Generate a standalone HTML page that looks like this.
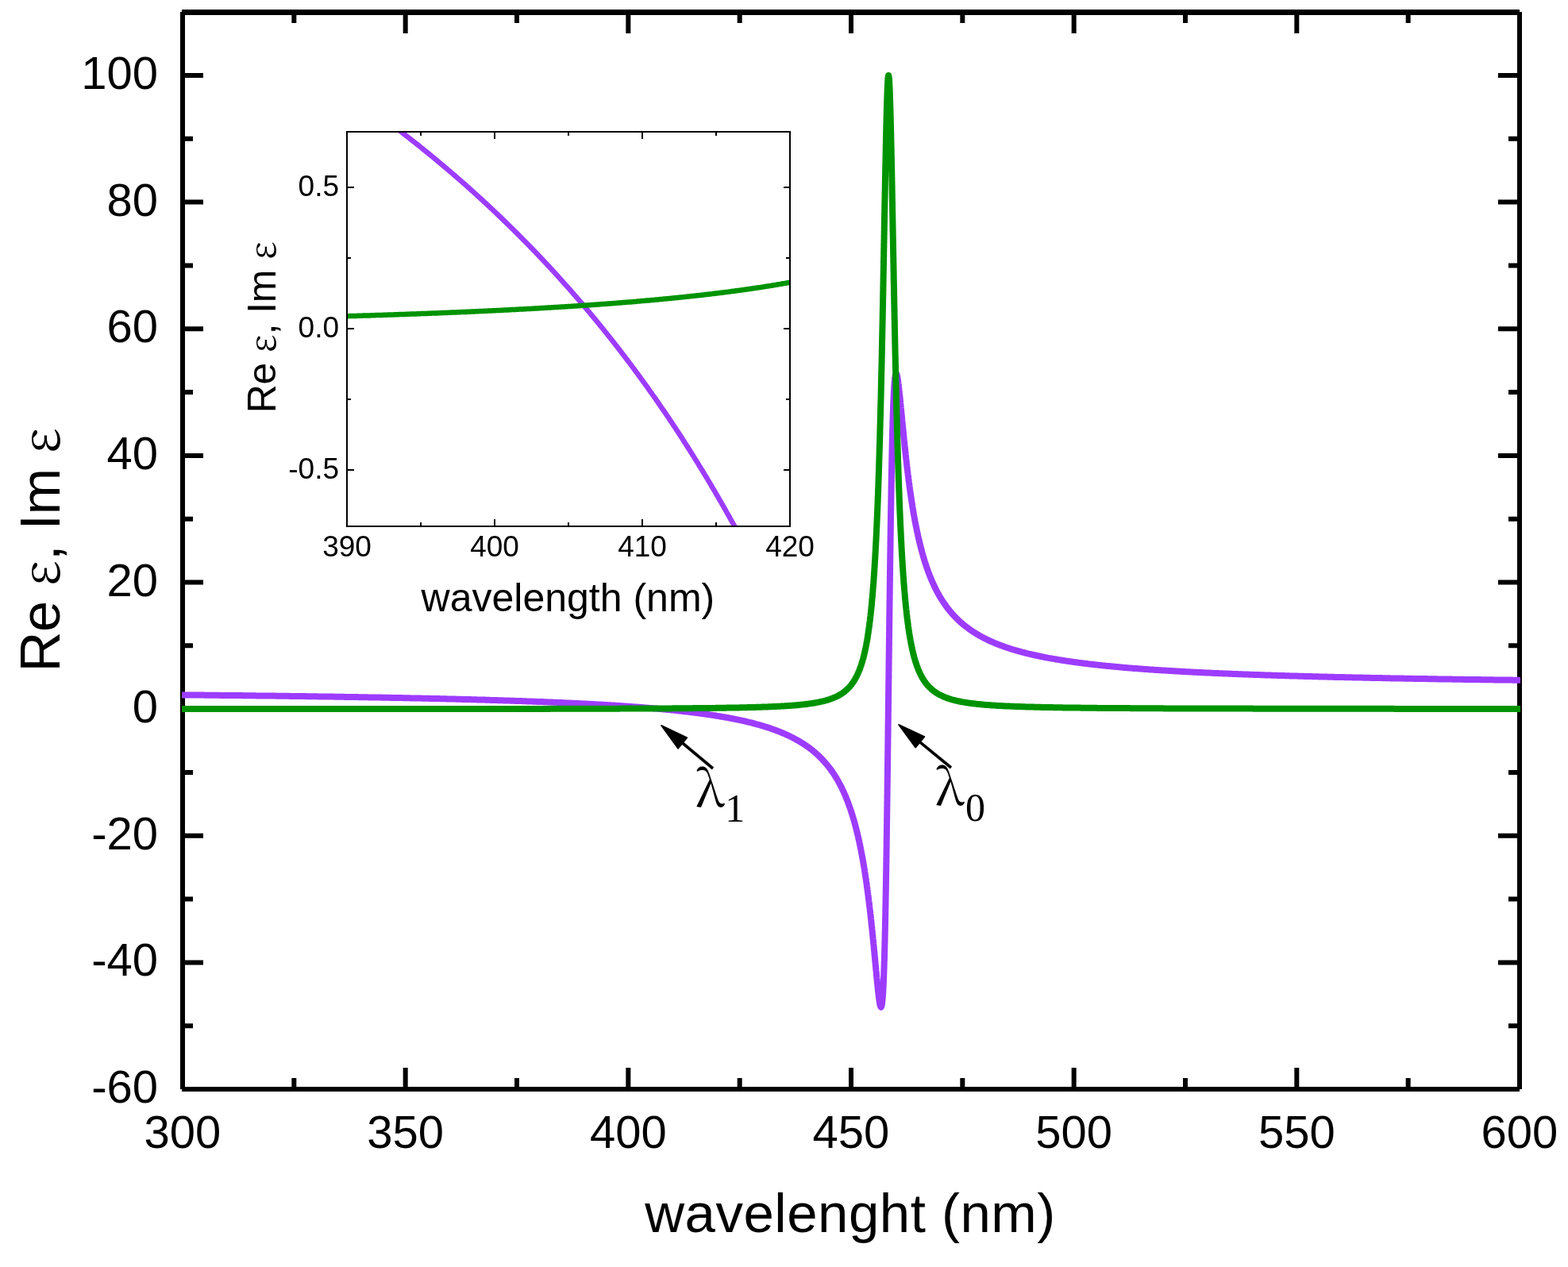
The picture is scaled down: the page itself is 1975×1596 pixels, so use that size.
<!DOCTYPE html><html><head><meta charset="utf-8"><title>Re ε, Im ε</title><style>html,body{margin:0;padding:0;background:#fff;overflow:hidden;}svg{display:block;}</style></head><body><svg width="1975" height="1596" viewBox="0 0 1975 1596">
<rect x="0" y="0" width="1975" height="1596" fill="#fff"/>
<path d="M227,1212.38H256 M1917,1212.38H1887 M227,1052.75H256 M1917,1052.75H1887 M227,893.12H256 M1917,893.12H1887 M227,733.50H256 M1917,733.50H1887 M227,573.88H256 M1917,573.88H1887 M227,414.25H256 M1917,414.25H1887 M227,254.62H256 M1917,254.62H1887 M227,95.00H256 M1917,95.00H1887 M227,1292.19H243 M1917,1292.19H1900 M227,1132.56H243 M1917,1132.56H1900 M227,972.94H243 M1917,972.94H1900 M227,813.31H243 M1917,813.31H1900 M227,653.69H243 M1917,653.69H1900 M227,494.06H243 M1917,494.06H1900 M227,334.44H243 M1917,334.44H1900 M227,174.81H243 M1917,174.81H1900 M510.67,1375V1345 M510.67,12V42 M791.33,1375V1345 M791.33,12V42 M1072.00,1375V1345 M1072.00,12V42 M1352.67,1375V1345 M1352.67,12V42 M1633.33,1375V1345 M1633.33,12V42 M370.33,1375V1358 M370.33,12V29 M651.00,1375V1358 M651.00,12V29 M931.67,1375V1358 M931.67,12V29 M1212.33,1375V1358 M1212.33,12V29 M1493.00,1375V1358 M1493.00,12V29 M1773.67,1375V1358 M1773.67,12V29" stroke="#000" stroke-width="6" fill="none"/>
<path d="M229,15.5H1914" stroke="#000" stroke-width="7" fill="none"/>
<path d="M229,1372H1914" stroke="#000" stroke-width="6" fill="none"/>
<path d="M230,15V1372" stroke="#000" stroke-width="6" fill="none"/>
<path d="M1914,15V1372" stroke="#000" stroke-width="6" fill="none"/>
<path d="M229.0,875.4 L230.2,875.4 L231.4,875.4 L232.6,875.4 L233.8,875.4 L235.0,875.4 L236.2,875.5 L237.4,875.5 L238.6,875.5 L239.8,875.5 L241.0,875.5 L242.2,875.5 L243.4,875.5 L244.6,875.5 L245.8,875.5 L247.0,875.6 L248.2,875.6 L249.4,875.6 L250.6,875.6 L251.8,875.6 L253.0,875.6 L254.2,875.6 L255.4,875.6 L256.6,875.6 L257.8,875.7 L259.0,875.7 L260.2,875.7 L261.4,875.7 L262.6,875.7 L263.8,875.7 L265.1,875.7 L266.3,875.7 L267.5,875.8 L268.7,875.8 L269.9,875.8 L271.1,875.8 L272.3,875.8 L273.5,875.8 L274.7,875.8 L275.9,875.8 L277.1,875.9 L278.3,875.9 L279.5,875.9 L280.7,875.9 L281.9,875.9 L283.1,875.9 L284.3,875.9 L285.5,875.9 L286.7,876.0 L287.9,876.0 L289.1,876.0 L290.3,876.0 L291.5,876.0 L292.7,876.0 L293.9,876.0 L295.1,876.0 L296.3,876.1 L297.5,876.1 L298.7,876.1 L299.9,876.1 L301.1,876.1 L302.3,876.1 L303.5,876.1 L304.7,876.1 L305.9,876.2 L307.1,876.2 L308.3,876.2 L309.5,876.2 L310.7,876.2 L311.9,876.2 L313.1,876.2 L314.3,876.3 L315.5,876.3 L316.7,876.3 L317.9,876.3 L319.1,876.3 L320.3,876.3 L321.5,876.3 L322.7,876.4 L323.9,876.4 L325.1,876.4 L326.3,876.4 L327.5,876.4 L328.7,876.4 L329.9,876.4 L331.1,876.4 L332.3,876.5 L333.5,876.5 L334.7,876.5 L335.9,876.5 L337.1,876.5 L338.3,876.5 L339.5,876.5 L340.7,876.6 L341.9,876.6 L343.1,876.6 L344.3,876.6 L345.5,876.6 L346.7,876.6 L347.9,876.7 L349.1,876.7 L350.3,876.7 L351.5,876.7 L352.7,876.7 L353.9,876.7 L355.1,876.7 L356.3,876.8 L357.5,876.8 L358.7,876.8 L359.9,876.8 L361.1,876.8 L362.3,876.8 L363.5,876.8 L364.7,876.9 L365.9,876.9 L367.1,876.9 L368.3,876.9 L369.5,876.9 L370.7,876.9 L371.9,877.0 L373.1,877.0 L374.3,877.0 L375.5,877.0 L376.7,877.0 L377.9,877.0 L379.1,877.1 L380.3,877.1 L381.5,877.1 L382.7,877.1 L383.9,877.1 L385.1,877.1 L386.3,877.2 L387.5,877.2 L388.7,877.2 L389.9,877.2 L391.1,877.2 L392.3,877.2 L393.5,877.3 L394.7,877.3 L395.9,877.3 L397.1,877.3 L398.3,877.3 L399.5,877.3 L400.7,877.4 L401.9,877.4 L403.1,877.4 L404.3,877.4 L405.5,877.4 L406.7,877.4 L407.9,877.5 L409.1,877.5 L410.3,877.5 L411.5,877.5 L412.7,877.5 L413.9,877.5 L415.1,877.6 L416.3,877.6 L417.5,877.6 L418.7,877.6 L419.9,877.6 L421.1,877.7 L422.3,877.7 L423.5,877.7 L424.7,877.7 L425.9,877.7 L427.1,877.7 L428.3,877.8 L429.5,877.8 L430.7,877.8 L431.9,877.8 L433.1,877.8 L434.3,877.9 L435.5,877.9 L436.7,877.9 L437.9,877.9 L439.1,877.9 L440.3,878.0 L441.5,878.0 L442.7,878.0 L443.9,878.0 L445.1,878.0 L446.3,878.1 L447.5,878.1 L448.7,878.1 L449.9,878.1 L451.1,878.1 L452.3,878.2 L453.5,878.2 L454.7,878.2 L455.9,878.2 L457.1,878.2 L458.3,878.3 L459.5,878.3 L460.7,878.3 L461.9,878.3 L463.1,878.3 L464.3,878.4 L465.5,878.4 L466.7,878.4 L467.9,878.4 L469.1,878.4 L470.3,878.5 L471.5,878.5 L472.7,878.5 L473.9,878.5 L475.1,878.6 L476.3,878.6 L477.5,878.6 L478.7,878.6 L479.9,878.6 L481.1,878.7 L482.3,878.7 L483.5,878.7 L484.7,878.7 L485.9,878.7 L487.1,878.8 L488.3,878.8 L489.5,878.8 L490.7,878.8 L491.9,878.9 L493.1,878.9 L494.3,878.9 L495.5,878.9 L496.7,879.0 L497.9,879.0 L499.1,879.0 L500.3,879.0 L501.5,879.0 L502.7,879.1 L503.9,879.1 L505.1,879.1 L506.3,879.1 L507.5,879.2 L508.7,879.2 L509.9,879.2 L511.1,879.2 L512.3,879.3 L513.5,879.3 L514.7,879.3 L515.9,879.3 L517.1,879.4 L518.3,879.4 L519.5,879.4 L520.7,879.4 L521.9,879.5 L523.1,879.5 L524.3,879.5 L525.5,879.5 L526.7,879.6 L527.9,879.6 L529.1,879.6 L530.3,879.6 L531.5,879.7 L532.7,879.7 L533.9,879.7 L535.1,879.7 L536.3,879.8 L537.5,879.8 L538.7,879.8 L539.9,879.8 L541.1,879.9 L542.3,879.9 L543.5,879.9 L544.7,880.0 L545.9,880.0 L547.1,880.0 L548.3,880.0 L549.5,880.1 L550.7,880.1 L551.9,880.1 L553.1,880.1 L554.3,880.2 L555.5,880.2 L556.7,880.2 L557.9,880.3 L559.1,880.3 L560.3,880.3 L561.5,880.3 L562.7,880.4 L563.9,880.4 L565.1,880.4 L566.3,880.5 L567.5,880.5 L568.7,880.5 L569.9,880.6 L571.1,880.6 L572.3,880.6 L573.5,880.6 L574.7,880.7 L575.9,880.7 L577.1,880.7 L578.3,880.8 L579.5,880.8 L580.7,880.8 L581.9,880.9 L583.1,880.9 L584.3,880.9 L585.5,881.0 L586.7,881.0 L587.9,881.0 L589.1,881.0 L590.3,881.1 L591.5,881.1 L592.7,881.1 L593.9,881.2 L595.1,881.2 L596.3,881.2 L597.5,881.3 L598.7,881.3 L599.9,881.3 L601.1,881.4 L602.3,881.4 L603.5,881.4 L604.7,881.5 L605.9,881.5 L607.1,881.5 L608.3,881.6 L609.5,881.6 L610.7,881.6 L611.9,881.7 L613.1,881.7 L614.3,881.8 L615.5,881.8 L616.6,881.8 L617.8,881.9 L619.0,881.9 L620.2,881.9 L621.4,882.0 L622.6,882.0 L623.8,882.0 L625.0,882.1 L626.2,882.1 L627.4,882.2 L628.6,882.2 L629.8,882.2 L631.0,882.3 L632.2,882.3 L633.4,882.3 L634.6,882.4 L635.8,882.4 L637.0,882.5 L638.2,882.5 L639.4,882.5 L640.6,882.6 L641.8,882.6 L643.0,882.7 L644.2,882.7 L645.4,882.7 L646.6,882.8 L647.8,882.8 L649.0,882.9 L650.2,882.9 L651.4,882.9 L652.6,883.0 L653.8,883.0 L655.0,883.1 L656.2,883.1 L657.4,883.1 L658.6,883.2 L659.8,883.2 L661.0,883.3 L662.2,883.3 L663.4,883.4 L664.6,883.4 L665.8,883.4 L667.0,883.5 L668.2,883.5 L669.4,883.6 L670.6,883.6 L671.8,883.7 L673.0,883.7 L674.2,883.8 L675.4,883.8 L676.6,883.9 L677.8,883.9 L679.0,883.9 L680.2,884.0 L681.4,884.0 L682.6,884.1 L683.8,884.1 L685.0,884.2 L686.2,884.2 L687.4,884.3 L688.6,884.3 L689.8,884.4 L691.0,884.4 L692.2,884.5 L693.4,884.5 L694.6,884.6 L695.8,884.6 L697.0,884.7 L698.2,884.7 L699.4,884.8 L700.6,884.8 L701.8,884.9 L703.0,884.9 L704.2,885.0 L705.4,885.0 L706.6,885.1 L707.8,885.1 L709.0,885.2 L710.2,885.3 L711.4,885.3 L712.6,885.4 L713.8,885.4 L715.0,885.5 L716.2,885.5 L717.4,885.6 L718.6,885.6 L719.8,885.7 L721.0,885.8 L722.2,885.8 L723.4,885.9 L724.6,885.9 L725.8,886.0 L727.0,886.0 L728.2,886.1 L729.4,886.2 L730.6,886.2 L731.8,886.3 L733.0,886.3 L734.2,886.4 L735.4,886.5 L736.6,886.5 L737.8,886.6 L739.0,886.6 L740.2,886.7 L741.4,886.8 L742.6,886.8 L743.8,886.9 L745.0,887.0 L746.2,887.0 L747.4,887.1 L748.6,887.2 L749.8,887.2 L751.0,887.3 L752.2,887.4 L753.4,887.4 L754.6,887.5 L755.8,887.6 L756.9,887.6 L758.1,887.7 L759.3,887.8 L760.5,887.8 L761.7,887.9 L762.9,888.0 L764.1,888.1 L765.3,888.1 L766.5,888.2 L767.7,888.3 L768.9,888.3 L770.1,888.4 L771.3,888.5 L772.5,888.6 L773.7,888.6 L774.9,888.7 L776.1,888.8 L777.3,888.9 L778.5,889.0 L779.7,889.0 L780.9,889.1 L782.1,889.2 L783.3,889.3 L784.5,889.3 L785.7,889.4 L786.9,889.5 L788.1,889.6 L789.3,889.7 L790.5,889.8 L791.7,889.8 L792.9,889.9 L794.1,890.0 L795.3,890.1 L796.5,890.2 L797.7,890.3 L798.9,890.4 L800.1,890.5 L801.3,890.5 L802.5,890.6 L803.7,890.7 L804.9,890.8 L806.0,890.9 L807.2,891.0 L808.4,891.1 L809.6,891.2 L810.8,891.3 L812.0,891.4 L813.2,891.5 L814.4,891.6 L815.6,891.7 L816.8,891.8 L818.0,891.9 L819.2,892.0 L820.4,892.1 L821.6,892.2 L822.8,892.3 L824.0,892.4 L825.2,892.5 L826.4,892.6 L827.6,892.7 L828.8,892.8 L830.0,892.9 L831.2,893.0 L832.4,893.1 L833.6,893.2 L834.7,893.3 L835.9,893.5 L837.1,893.6 L838.3,893.7 L839.5,893.8 L840.7,893.9 L841.9,894.0 L843.1,894.1 L844.3,894.3 L845.5,894.4 L846.7,894.5 L847.9,894.6 L849.1,894.7 L850.3,894.9 L851.5,895.0 L852.7,895.1 L853.9,895.3 L855.0,895.4 L856.2,895.5 L857.4,895.6 L858.6,895.8 L859.8,895.9 L861.0,896.0 L862.2,896.2 L863.4,896.3 L864.6,896.5 L865.8,896.6 L867.0,896.7 L868.2,896.9 L869.4,897.0 L870.5,897.2 L871.7,897.3 L872.9,897.5 L874.1,897.6 L875.3,897.8 L876.5,897.9 L877.7,898.1 L878.9,898.2 L880.1,898.4 L881.3,898.5 L882.5,898.7 L883.6,898.9 L884.8,899.0 L886.0,899.2 L887.2,899.3 L888.4,899.5 L889.6,899.7 L890.8,899.9 L892.0,900.0 L893.1,900.2 L894.3,900.4 L895.5,900.6 L896.7,900.7 L897.9,900.9 L899.1,901.1 L900.3,901.3 L901.5,901.5 L902.6,901.7 L903.8,901.9 L905.0,902.1 L906.2,902.3 L907.4,902.5 L908.6,902.7 L909.7,902.9 L910.9,903.1 L912.1,903.3 L913.3,903.5 L914.5,903.7 L915.6,903.9 L916.8,904.1 L918.0,904.3 L919.2,904.6 L920.4,904.8 L921.5,905.0 L922.7,905.2 L923.9,905.5 L925.1,905.7 L926.3,905.9 L927.4,906.2 L928.6,906.4 L929.8,906.7 L931.0,906.9 L932.1,907.2 L933.3,907.4 L934.5,907.7 L935.6,907.9 L936.8,908.2 L938.0,908.5 L939.2,908.7 L940.3,909.0 L941.5,909.3 L942.7,909.6 L943.8,909.9 L945.0,910.1 L946.2,910.4 L947.3,910.7 L948.5,911.0 L949.6,911.3 L950.8,911.6 L952.0,912.0 L953.1,912.3 L954.3,912.6 L955.4,912.9 L956.6,913.2 L957.7,913.6 L958.9,913.9 L960.0,914.2 L961.2,914.6 L962.3,914.9 L963.5,915.3 L964.6,915.6 L965.8,916.0 L966.9,916.4 L968.1,916.7 L969.2,917.1 L970.3,917.5 L971.5,917.9 L972.6,918.3 L973.7,918.7 L974.9,919.1 L976.0,919.5 L977.1,919.9 L978.3,920.3 L979.4,920.8 L980.5,921.2 L981.6,921.6 L982.7,922.1 L983.8,922.5 L984.9,923.0 L986.1,923.5 L987.2,923.9 L988.3,924.4 L989.4,924.9 L990.4,925.4 L991.5,925.9 L992.6,926.4 L993.7,926.9 L994.8,927.4 L995.9,927.9 L997.0,928.5 L998.0,929.0 L999.1,929.6 L1000.2,930.1 L1001.2,930.7 L1002.3,931.3 L1003.3,931.8 L1004.4,932.4 L1005.4,933.0 L1006.4,933.6 L1007.5,934.2 L1008.5,934.9 L1009.5,935.5 L1010.5,936.1 L1011.6,936.8 L1012.6,937.4 L1013.6,938.1 L1014.6,938.7 L1015.6,939.4 L1016.5,940.1 L1017.5,940.8 L1018.5,941.5 L1019.5,942.2 L1020.4,942.9 L1021.4,943.7 L1022.3,944.4 L1023.3,945.2 L1024.2,945.9 L1025.1,946.7 L1026.0,947.5 L1026.9,948.2 L1027.8,949.0 L1028.7,949.8 L1029.6,950.6 L1030.5,951.5 L1031.4,952.3 L1032.2,953.1 L1033.1,954.0 L1033.9,954.8 L1034.8,955.7 L1035.6,956.5 L1036.4,957.4 L1037.3,958.3 L1038.1,959.2 L1038.9,960.1 L1039.6,961.0 L1040.4,961.9 L1041.2,962.8 L1042.0,963.7 L1042.7,964.7 L1043.5,965.6 L1044.2,966.5 L1044.9,967.5 L1045.7,968.5 L1046.4,969.4 L1047.1,970.4 L1047.8,971.4 L1048.5,972.4 L1049.1,973.3 L1049.8,974.3 L1050.5,975.3 L1051.1,976.3 L1051.8,977.4 L1052.4,978.4 L1053.0,979.4 L1053.7,980.4 L1054.3,981.5 L1054.9,982.5 L1055.5,983.5 L1056.1,984.6 L1056.6,985.6 L1057.2,986.7 L1057.8,987.7 L1058.3,988.8 L1058.9,989.9 L1059.4,990.9 L1060.0,992.0 L1060.5,993.1 L1061.0,994.2 L1061.5,995.3 L1062.1,996.3 L1062.6,997.4 L1063.1,998.5 L1063.5,999.6 L1064.0,1000.7 L1064.5,1001.8 L1065.0,1002.9 L1065.4,1004.0 L1065.9,1005.1 L1066.3,1006.3 L1066.8,1007.4 L1067.2,1008.5 L1067.7,1009.6 L1068.1,1010.7 L1068.5,1011.8 L1068.9,1013.0 L1069.3,1014.1 L1069.7,1015.2 L1070.1,1016.4 L1070.5,1017.5 L1070.9,1018.6 L1071.3,1019.8 L1071.7,1020.9 L1072.1,1022.0 L1072.4,1023.2 L1072.8,1024.3 L1073.2,1025.5 L1073.5,1026.6 L1073.9,1027.8 L1074.2,1028.9 L1074.6,1030.1 L1074.9,1031.2 L1075.3,1032.4 L1075.6,1033.5 L1075.9,1034.7 L1076.2,1035.8 L1076.6,1037.0 L1076.9,1038.1 L1077.2,1039.3 L1077.5,1040.5 L1077.8,1041.6 L1078.1,1042.8 L1078.4,1043.9 L1078.7,1045.1 L1079.0,1046.3 L1079.3,1047.4 L1079.6,1048.6 L1079.9,1049.8 L1080.1,1050.9 L1080.4,1052.1 L1080.7,1053.3 L1081.0,1054.4 L1081.2,1055.6 L1081.5,1056.8 L1081.8,1058.0 L1082.0,1059.1 L1082.3,1060.3 L1082.5,1061.5 L1082.8,1062.6 L1083.0,1063.8 L1083.3,1065.0 L1083.5,1066.2 L1083.7,1067.3 L1084.0,1068.5 L1084.2,1069.7 L1084.5,1070.9 L1084.7,1072.1 L1084.9,1073.2 L1085.1,1074.4 L1085.4,1075.6 L1085.6,1076.8 L1085.8,1077.9 L1086.0,1079.1 L1086.2,1080.3 L1086.5,1081.5 L1086.7,1082.7 L1086.9,1083.9 L1087.1,1085.0 L1087.3,1086.2 L1087.5,1087.4 L1087.7,1088.6 L1087.9,1089.8 L1088.1,1090.9 L1088.3,1092.1 L1088.5,1093.3 L1088.7,1094.5 L1088.9,1095.7 L1089.1,1096.9 L1089.2,1098.1 L1089.4,1099.2 L1089.6,1100.4 L1089.8,1101.6 L1090.0,1102.8 L1090.2,1104.0 L1090.3,1105.2 L1090.5,1106.4 L1090.7,1107.5 L1090.9,1108.7 L1091.0,1109.9 L1091.2,1111.1 L1091.4,1112.3 L1091.5,1113.5 L1091.7,1114.7 L1091.9,1115.9 L1092.0,1117.1 L1092.2,1118.2 L1092.4,1119.4 L1092.5,1120.6 L1092.7,1121.8 L1092.9,1123.0 L1093.0,1124.2 L1093.2,1125.4 L1093.3,1126.6 L1093.5,1127.8 L1093.6,1129.0 L1093.8,1130.1 L1093.9,1131.3 L1094.1,1132.5 L1094.2,1133.7 L1094.4,1134.9 L1094.5,1136.1 L1094.7,1137.3 L1094.8,1138.5 L1095.0,1139.7 L1095.1,1140.9 L1095.2,1142.1 L1095.4,1143.2 L1095.5,1144.4 L1095.7,1145.6 L1095.8,1146.8 L1095.9,1148.0 L1096.1,1149.2 L1096.2,1150.4 L1096.4,1151.6 L1096.5,1152.8 L1096.6,1154.0 L1096.8,1155.2 L1096.9,1156.4 L1097.0,1157.6 L1097.2,1158.7 L1097.3,1159.9 L1097.4,1161.1 L1097.5,1162.3 L1097.7,1163.5 L1097.8,1164.7 L1097.9,1165.9 L1098.1,1167.1 L1098.2,1168.3 L1098.3,1169.5 L1098.4,1170.7 L1098.6,1171.9 L1098.7,1173.1 L1098.8,1174.3 L1098.9,1175.5 L1099.0,1176.7 L1099.2,1177.8 L1099.3,1179.0 L1099.4,1180.2 L1099.5,1181.4 L1099.6,1182.6 L1099.8,1183.8 L1099.9,1185.0 L1100.0,1186.2 L1100.1,1187.4 L1100.2,1188.6 L1100.4,1189.8 L1100.5,1191.0 L1100.6,1192.2 L1100.7,1193.4 L1100.8,1194.6 L1100.9,1195.8 L1101.0,1197.0 L1101.2,1198.2 L1101.3,1199.3 L1101.4,1200.5 L1101.5,1201.7 L1101.6,1202.9 L1101.7,1204.1 L1101.8,1205.3 L1102.0,1206.5 L1102.1,1207.7 L1102.2,1208.9 L1102.3,1210.1 L1102.4,1211.3 L1102.5,1212.5 L1102.6,1213.7 L1102.7,1214.9 L1102.9,1216.1 L1103.0,1217.3 L1103.1,1218.5 L1103.2,1219.7 L1103.3,1220.9 L1103.4,1222.0 L1103.5,1223.2 L1103.7,1224.4 L1103.8,1225.6 L1103.9,1226.8 L1104.0,1228.0 L1104.1,1229.2 L1104.2,1230.4 L1104.3,1231.6 L1104.5,1232.8 L1104.6,1234.0 L1104.7,1235.2 L1104.8,1236.4 L1104.9,1237.6 L1105.0,1238.8 L1105.2,1240.0 L1105.3,1241.2 L1105.4,1242.4 L1105.5,1243.5 L1105.7,1244.7 L1105.8,1245.9 L1105.9,1247.1 L1106.0,1248.3 L1106.2,1249.5 L1106.3,1250.7 L1106.4,1251.9 L1106.6,1253.1 L1106.7,1254.3 L1106.9,1255.5 L1107.0,1256.7 L1107.2,1257.9 L1107.3,1259.0 L1107.5,1260.2 L1107.7,1261.4 L1107.9,1262.6 L1108.1,1263.8 L1108.3,1265.0 L1108.6,1266.1 L1108.9,1267.3 L1109.4,1268.4 L1109.7,1268.6 L1110.2,1267.9 L1110.5,1266.8 L1110.8,1265.6 L1111.0,1264.4 L1111.1,1263.2 L1111.3,1262.0 L1111.4,1260.8 L1111.5,1259.6 L1111.6,1258.4 L1111.7,1257.3 L1111.8,1256.1 L1111.9,1254.9 L1112.0,1253.7 L1112.1,1252.5 L1112.1,1251.3 L1112.2,1250.1 L1112.3,1248.9 L1112.3,1247.7 L1112.4,1246.5 L1112.5,1245.3 L1112.5,1244.1 L1112.6,1242.9 L1112.7,1241.7 L1112.7,1240.5 L1112.8,1239.3 L1112.8,1238.1 L1112.9,1236.9 L1112.9,1235.7 L1113.0,1234.5 L1113.0,1233.3 L1113.1,1232.1 L1113.1,1230.9 L1113.2,1229.7 L1113.2,1228.5 L1113.3,1227.3 L1113.3,1226.1 L1113.3,1224.9 L1113.4,1223.7 L1113.4,1222.5 L1113.5,1221.3 L1113.5,1220.1 L1113.6,1218.9 L1113.6,1217.7 L1113.6,1216.5 L1113.7,1215.3 L1113.7,1214.1 L1113.7,1212.9 L1113.8,1211.7 L1113.8,1210.5 L1113.9,1209.3 L1113.9,1208.1 L1113.9,1206.9 L1114.0,1205.7 L1114.0,1204.5 L1114.0,1203.3 L1114.1,1202.1 L1114.1,1200.9 L1114.1,1199.7 L1114.2,1198.5 L1114.2,1197.3 L1114.2,1196.1 L1114.3,1194.9 L1114.3,1193.7 L1114.3,1192.5 L1114.3,1191.3 L1114.4,1190.1 L1114.4,1188.9 L1114.4,1187.7 L1114.5,1186.5 L1114.5,1185.3 L1114.5,1184.1 L1114.6,1182.9 L1114.6,1181.7 L1114.6,1180.5 L1114.6,1179.3 L1114.7,1178.1 L1114.7,1176.9 L1114.7,1175.7 L1114.7,1174.5 L1114.8,1173.3 L1114.8,1172.1 L1114.8,1170.9 L1114.9,1169.7 L1114.9,1168.5 L1114.9,1167.3 L1114.9,1166.1 L1115.0,1164.9 L1115.0,1163.7 L1115.0,1162.5 L1115.0,1161.3 L1115.1,1160.1 L1115.1,1158.9 L1115.1,1157.7 L1115.1,1156.5 L1115.2,1155.3 L1115.2,1154.1 L1115.2,1152.9 L1115.2,1151.7 L1115.3,1150.5 L1115.3,1149.3 L1115.3,1148.1 L1115.3,1146.9 L1115.3,1145.7 L1115.4,1144.5 L1115.4,1143.3 L1115.4,1142.1 L1115.4,1140.9 L1115.5,1139.7 L1115.5,1138.5 L1115.5,1137.3 L1115.5,1136.1 L1115.5,1134.9 L1115.6,1133.7 L1115.6,1132.5 L1115.6,1131.3 L1115.6,1130.1 L1115.7,1128.9 L1115.7,1127.7 L1115.7,1126.5 L1115.7,1125.3 L1115.7,1124.1 L1115.8,1122.9 L1115.8,1121.7 L1115.8,1120.5 L1115.8,1119.3 L1115.8,1118.1 L1115.9,1116.9 L1115.9,1115.7 L1115.9,1114.5 L1115.9,1113.3 L1115.9,1112.1 L1116.0,1110.9 L1116.0,1109.7 L1116.0,1108.5 L1116.0,1107.3 L1116.0,1106.1 L1116.1,1104.9 L1116.1,1103.7 L1116.1,1102.5 L1116.1,1101.3 L1116.1,1100.1 L1116.2,1098.9 L1116.2,1097.7 L1116.2,1096.5 L1116.2,1095.3 L1116.2,1094.1 L1116.3,1092.9 L1116.3,1091.7 L1116.3,1090.5 L1116.3,1089.3 L1116.3,1088.1 L1116.3,1086.9 L1116.4,1085.7 L1116.4,1084.5 L1116.4,1083.3 L1116.4,1082.1 L1116.4,1080.9 L1116.5,1079.7 L1116.5,1078.5 L1116.5,1077.3 L1116.5,1076.1 L1116.5,1074.9 L1116.5,1073.7 L1116.6,1072.5 L1116.6,1071.3 L1116.6,1070.1 L1116.6,1068.9 L1116.6,1067.7 L1116.7,1066.5 L1116.7,1065.3 L1116.7,1064.1 L1116.7,1062.9 L1116.7,1061.7 L1116.7,1060.5 L1116.8,1059.3 L1116.8,1058.1 L1116.8,1056.9 L1116.8,1055.7 L1116.8,1054.5 L1116.8,1053.3 L1116.9,1052.1 L1116.9,1050.9 L1116.9,1049.7 L1116.9,1048.5 L1116.9,1047.3 L1116.9,1046.1 L1117.0,1044.9 L1117.0,1043.7 L1117.0,1042.5 L1117.0,1041.3 L1117.0,1040.1 L1117.0,1038.9 L1117.1,1037.7 L1117.1,1036.5 L1117.1,1035.3 L1117.1,1034.1 L1117.1,1032.9 L1117.1,1031.7 L1117.2,1030.5 L1117.2,1029.3 L1117.2,1028.1 L1117.2,1026.9 L1117.2,1025.7 L1117.2,1024.5 L1117.3,1023.3 L1117.3,1022.1 L1117.3,1020.9 L1117.3,1019.7 L1117.3,1018.5 L1117.3,1017.3 L1117.4,1016.1 L1117.4,1014.9 L1117.4,1013.7 L1117.4,1012.5 L1117.4,1011.3 L1117.4,1010.1 L1117.5,1008.9 L1117.5,1007.7 L1117.5,1006.5 L1117.5,1005.3 L1117.5,1004.1 L1117.5,1002.9 L1117.5,1001.7 L1117.6,1000.5 L1117.6,999.3 L1117.6,998.1 L1117.6,996.9 L1117.6,995.7 L1117.6,994.5 L1117.7,993.3 L1117.7,992.1 L1117.7,990.9 L1117.7,989.7 L1117.7,988.5 L1117.7,987.3 L1117.7,986.1 L1117.8,984.9 L1117.8,983.7 L1117.8,982.5 L1117.8,981.3 L1117.8,980.1 L1117.8,978.9 L1117.9,977.7 L1117.9,976.5 L1117.9,975.3 L1117.9,974.1 L1117.9,972.9 L1117.9,971.7 L1117.9,970.5 L1118.0,969.3 L1118.0,968.1 L1118.0,966.9 L1118.0,965.7 L1118.0,964.5 L1118.0,963.3 L1118.0,962.1 L1118.1,960.9 L1118.1,959.7 L1118.1,958.5 L1118.1,957.3 L1118.1,956.1 L1118.1,954.9 L1118.2,953.7 L1118.2,952.5 L1118.2,951.3 L1118.2,950.1 L1118.2,948.9 L1118.2,947.7 L1118.2,946.5 L1118.3,945.3 L1118.3,944.1 L1118.3,942.9 L1118.3,941.7 L1118.3,940.5 L1118.3,939.3 L1118.3,938.1 L1118.4,936.9 L1118.4,935.7 L1118.4,934.5 L1118.4,933.3 L1118.4,932.1 L1118.4,930.9 L1118.4,929.7 L1118.5,928.5 L1118.5,927.3 L1118.5,926.1 L1118.5,924.9 L1118.5,923.7 L1118.5,922.5 L1118.5,921.3 L1118.6,920.1 L1118.6,918.9 L1118.6,917.7 L1118.6,916.5 L1118.6,915.3 L1118.6,914.1 L1118.6,912.9 L1118.7,911.7 L1118.7,910.5 L1118.7,909.3 L1118.7,908.1 L1118.7,906.9 L1118.7,905.7 L1118.8,904.5 L1118.8,903.3 L1118.8,902.1 L1118.8,900.9 L1118.8,899.7 L1118.8,898.5 L1118.8,897.3 L1118.9,896.1 L1118.9,894.9 L1118.9,893.7 L1118.9,892.5 L1118.9,891.3 L1118.9,890.1 L1118.9,888.9 L1119.0,887.7 L1119.0,886.5 L1119.0,885.3 L1119.0,884.1 L1119.0,882.9 L1119.0,881.7 L1119.0,880.5 L1119.1,879.3 L1119.1,878.1 L1119.1,876.9 L1119.1,875.7 L1119.1,874.5 L1119.1,873.3 L1119.1,872.1 L1119.2,870.9 L1119.2,869.7 L1119.2,868.5 L1119.2,867.3 L1119.2,866.1 L1119.2,864.9 L1119.2,863.7 L1119.3,862.5 L1119.3,861.3 L1119.3,860.1 L1119.3,858.9 L1119.3,857.7 L1119.3,856.5 L1119.3,855.3 L1119.4,854.1 L1119.4,852.9 L1119.4,851.7 L1119.4,850.5 L1119.4,849.3 L1119.4,848.1 L1119.4,846.9 L1119.5,845.7 L1119.5,844.5 L1119.5,843.3 L1119.5,842.1 L1119.5,840.9 L1119.5,839.7 L1119.5,838.5 L1119.6,837.3 L1119.6,836.1 L1119.6,834.9 L1119.6,833.7 L1119.6,832.5 L1119.6,831.3 L1119.6,830.1 L1119.7,828.9 L1119.7,827.7 L1119.7,826.5 L1119.7,825.3 L1119.7,824.1 L1119.7,822.9 L1119.7,821.7 L1119.8,820.5 L1119.8,819.3 L1119.8,818.1 L1119.8,816.9 L1119.8,815.7 L1119.8,814.5 L1119.8,813.3 L1119.9,812.1 L1119.9,810.9 L1119.9,809.7 L1119.9,808.5 L1119.9,807.3 L1119.9,806.1 L1119.9,804.9 L1120.0,803.7 L1120.0,802.5 L1120.0,801.3 L1120.0,800.1 L1120.0,798.9 L1120.0,797.7 L1120.0,796.5 L1120.1,795.3 L1120.1,794.1 L1120.1,792.9 L1120.1,791.7 L1120.1,790.5 L1120.1,789.3 L1120.2,788.1 L1120.2,786.9 L1120.2,785.7 L1120.2,784.5 L1120.2,783.3 L1120.2,782.1 L1120.2,780.9 L1120.3,779.7 L1120.3,778.5 L1120.3,777.3 L1120.3,776.1 L1120.3,774.9 L1120.3,773.7 L1120.3,772.5 L1120.4,771.3 L1120.4,770.1 L1120.4,768.9 L1120.4,767.7 L1120.4,766.5 L1120.4,765.3 L1120.5,764.1 L1120.5,762.9 L1120.5,761.7 L1120.5,760.5 L1120.5,759.3 L1120.5,758.1 L1120.5,756.9 L1120.6,755.7 L1120.6,754.5 L1120.6,753.3 L1120.6,752.1 L1120.6,750.9 L1120.6,749.7 L1120.7,748.5 L1120.7,747.3 L1120.7,746.1 L1120.7,744.9 L1120.7,743.7 L1120.7,742.5 L1120.7,741.3 L1120.8,740.1 L1120.8,738.9 L1120.8,737.7 L1120.8,736.5 L1120.8,735.3 L1120.8,734.1 L1120.9,732.9 L1120.9,731.7 L1120.9,730.5 L1120.9,729.3 L1120.9,728.1 L1120.9,726.9 L1120.9,725.7 L1121.0,724.5 L1121.0,723.3 L1121.0,722.1 L1121.0,720.9 L1121.0,719.7 L1121.0,718.5 L1121.1,717.3 L1121.1,716.1 L1121.1,714.9 L1121.1,713.7 L1121.1,712.5 L1121.1,711.3 L1121.2,710.1 L1121.2,708.9 L1121.2,707.7 L1121.2,706.5 L1121.2,705.3 L1121.2,704.1 L1121.3,702.9 L1121.3,701.7 L1121.3,700.5 L1121.3,699.3 L1121.3,698.1 L1121.3,696.9 L1121.4,695.7 L1121.4,694.5 L1121.4,693.3 L1121.4,692.1 L1121.4,690.9 L1121.4,689.7 L1121.5,688.5 L1121.5,687.3 L1121.5,686.1 L1121.5,684.9 L1121.5,683.7 L1121.5,682.5 L1121.6,681.3 L1121.6,680.1 L1121.6,678.9 L1121.6,677.7 L1121.6,676.5 L1121.6,675.3 L1121.7,674.1 L1121.7,672.9 L1121.7,671.7 L1121.7,670.5 L1121.7,669.3 L1121.8,668.1 L1121.8,666.9 L1121.8,665.7 L1121.8,664.5 L1121.8,663.3 L1121.8,662.1 L1121.9,660.9 L1121.9,659.7 L1121.9,658.5 L1121.9,657.3 L1121.9,656.1 L1122.0,654.9 L1122.0,653.7 L1122.0,652.5 L1122.0,651.3 L1122.0,650.1 L1122.0,648.9 L1122.1,647.7 L1122.1,646.5 L1122.1,645.3 L1122.1,644.1 L1122.1,642.9 L1122.2,641.7 L1122.2,640.5 L1122.2,639.3 L1122.2,638.1 L1122.2,636.9 L1122.3,635.7 L1122.3,634.5 L1122.3,633.3 L1122.3,632.1 L1122.3,630.9 L1122.4,629.7 L1122.4,628.5 L1122.4,627.3 L1122.4,626.1 L1122.4,624.9 L1122.5,623.7 L1122.5,622.5 L1122.5,621.3 L1122.5,620.1 L1122.5,618.9 L1122.6,617.7 L1122.6,616.5 L1122.6,615.3 L1122.6,614.1 L1122.6,612.9 L1122.7,611.7 L1122.7,610.5 L1122.7,609.3 L1122.7,608.1 L1122.8,606.9 L1122.8,605.7 L1122.8,604.5 L1122.8,603.3 L1122.8,602.1 L1122.9,600.9 L1122.9,599.7 L1122.9,598.5 L1122.9,597.3 L1123.0,596.1 L1123.0,594.9 L1123.0,593.7 L1123.0,592.5 L1123.0,591.3 L1123.1,590.1 L1123.1,588.9 L1123.1,587.7 L1123.1,586.5 L1123.2,585.3 L1123.2,584.1 L1123.2,582.9 L1123.2,581.7 L1123.3,580.5 L1123.3,579.3 L1123.3,578.1 L1123.3,576.9 L1123.4,575.7 L1123.4,574.5 L1123.4,573.3 L1123.4,572.1 L1123.5,570.9 L1123.5,569.7 L1123.5,568.5 L1123.5,567.3 L1123.6,566.1 L1123.6,564.9 L1123.6,563.7 L1123.7,562.5 L1123.7,561.3 L1123.7,560.1 L1123.7,558.9 L1123.8,557.7 L1123.8,556.5 L1123.8,555.3 L1123.8,554.1 L1123.9,552.9 L1123.9,551.7 L1123.9,550.5 L1124.0,549.3 L1124.0,548.1 L1124.0,546.9 L1124.1,545.7 L1124.1,544.5 L1124.1,543.3 L1124.2,542.1 L1124.2,540.9 L1124.2,539.7 L1124.3,538.5 L1124.3,537.3 L1124.3,536.1 L1124.4,534.9 L1124.4,533.7 L1124.4,532.5 L1124.5,531.3 L1124.5,530.1 L1124.5,528.9 L1124.6,527.7 L1124.6,526.5 L1124.6,525.3 L1124.7,524.1 L1124.7,522.9 L1124.8,521.7 L1124.8,520.5 L1124.8,519.3 L1124.9,518.1 L1124.9,516.9 L1125.0,515.7 L1125.0,514.5 L1125.0,513.3 L1125.1,512.1 L1125.1,510.9 L1125.2,509.7 L1125.2,508.5 L1125.3,507.3 L1125.3,506.1 L1125.4,504.9 L1125.4,503.7 L1125.5,502.5 L1125.5,501.3 L1125.6,500.1 L1125.6,498.9 L1125.7,497.7 L1125.8,496.5 L1125.8,495.3 L1125.9,494.1 L1125.9,492.9 L1126.0,491.7 L1126.1,490.5 L1126.2,489.3 L1126.2,488.1 L1126.3,486.9 L1126.4,485.7 L1126.5,484.5 L1126.6,483.3 L1126.6,482.1 L1126.7,480.9 L1126.9,479.7 L1127.0,478.5 L1127.1,477.3 L1127.2,476.1 L1127.4,475.0 L1127.6,473.8 L1127.8,472.6 L1128.1,471.4 L1128.7,470.4 L1128.7,470.4 L1129.4,471.3 L1129.8,472.4 L1130.0,473.6 L1130.3,474.8 L1130.5,476.0 L1130.7,477.1 L1130.9,478.3 L1131.0,479.5 L1131.2,480.7 L1131.4,481.9 L1131.5,483.1 L1131.7,484.3 L1131.8,485.5 L1132.0,486.7 L1132.1,487.9 L1132.3,489.0 L1132.4,490.2 L1132.5,491.4 L1132.7,492.6 L1132.8,493.8 L1132.9,495.0 L1133.0,496.2 L1133.2,497.4 L1133.3,498.6 L1133.4,499.8 L1133.5,501.0 L1133.7,502.2 L1133.8,503.4 L1133.9,504.6 L1134.0,505.8 L1134.1,506.9 L1134.2,508.1 L1134.4,509.3 L1134.5,510.5 L1134.6,511.7 L1134.7,512.9 L1134.8,514.1 L1135.0,515.3 L1135.1,516.5 L1135.2,517.7 L1135.3,518.9 L1135.4,520.1 L1135.5,521.3 L1135.6,522.5 L1135.8,523.7 L1135.9,524.9 L1136.0,526.1 L1136.1,527.3 L1136.2,528.4 L1136.3,529.6 L1136.5,530.8 L1136.6,532.0 L1136.7,533.2 L1136.8,534.4 L1136.9,535.6 L1137.0,536.8 L1137.2,538.0 L1137.3,539.2 L1137.4,540.4 L1137.5,541.6 L1137.6,542.8 L1137.7,544.0 L1137.9,545.2 L1138.0,546.4 L1138.1,547.6 L1138.2,548.8 L1138.3,549.9 L1138.5,551.1 L1138.6,552.3 L1138.7,553.5 L1138.8,554.7 L1139.0,555.9 L1139.1,557.1 L1139.2,558.3 L1139.3,559.5 L1139.4,560.7 L1139.6,561.9 L1139.7,563.1 L1139.8,564.3 L1139.9,565.5 L1140.1,566.7 L1140.2,567.9 L1140.3,569.0 L1140.5,570.2 L1140.6,571.4 L1140.7,572.6 L1140.9,573.8 L1141.0,575.0 L1141.1,576.2 L1141.2,577.4 L1141.4,578.6 L1141.5,579.8 L1141.7,581.0 L1141.8,582.2 L1141.9,583.4 L1142.1,584.6 L1142.2,585.7 L1142.3,586.9 L1142.5,588.1 L1142.6,589.3 L1142.8,590.5 L1142.9,591.7 L1143.1,592.9 L1143.2,594.1 L1143.3,595.3 L1143.5,596.5 L1143.6,597.7 L1143.8,598.9 L1143.9,600.0 L1144.1,601.2 L1144.2,602.4 L1144.4,603.6 L1144.5,604.8 L1144.7,606.0 L1144.8,607.2 L1145.0,608.4 L1145.2,609.6 L1145.3,610.8 L1145.5,611.9 L1145.6,613.1 L1145.8,614.3 L1146.0,615.5 L1146.1,616.7 L1146.3,617.9 L1146.5,619.1 L1146.6,620.3 L1146.8,621.5 L1147.0,622.6 L1147.2,623.8 L1147.3,625.0 L1147.5,626.2 L1147.7,627.4 L1147.9,628.6 L1148.0,629.8 L1148.2,631.0 L1148.4,632.1 L1148.6,633.3 L1148.8,634.5 L1149.0,635.7 L1149.2,636.9 L1149.3,638.1 L1149.5,639.3 L1149.7,640.4 L1149.9,641.6 L1150.1,642.8 L1150.3,644.0 L1150.5,645.2 L1150.7,646.4 L1150.9,647.5 L1151.1,648.7 L1151.3,649.9 L1151.6,651.1 L1151.8,652.3 L1152.0,653.4 L1152.2,654.6 L1152.4,655.8 L1152.6,657.0 L1152.9,658.2 L1153.1,659.3 L1153.3,660.5 L1153.6,661.7 L1153.8,662.9 L1154.0,664.1 L1154.3,665.2 L1154.5,666.4 L1154.7,667.6 L1155.0,668.8 L1155.2,669.9 L1155.5,671.1 L1155.7,672.3 L1156.0,673.4 L1156.2,674.6 L1156.5,675.8 L1156.8,677.0 L1157.0,678.1 L1157.3,679.3 L1157.6,680.5 L1157.9,681.6 L1158.1,682.8 L1158.4,684.0 L1158.7,685.1 L1159.0,686.3 L1159.3,687.5 L1159.6,688.6 L1159.9,689.8 L1160.2,691.0 L1160.5,692.1 L1160.8,693.3 L1161.1,694.4 L1161.4,695.6 L1161.7,696.8 L1162.1,697.9 L1162.4,699.1 L1162.7,700.2 L1163.0,701.4 L1163.4,702.5 L1163.7,703.7 L1164.1,704.8 L1164.4,706.0 L1164.8,707.1 L1165.1,708.3 L1165.5,709.4 L1165.9,710.5 L1166.3,711.7 L1166.6,712.8 L1167.0,714.0 L1167.4,715.1 L1167.8,716.2 L1168.2,717.4 L1168.6,718.5 L1169.0,719.6 L1169.4,720.7 L1169.9,721.9 L1170.3,723.0 L1170.7,724.1 L1171.1,725.2 L1171.6,726.3 L1172.0,727.5 L1172.5,728.6 L1173.0,729.7 L1173.4,730.8 L1173.9,731.9 L1174.4,733.0 L1174.9,734.1 L1175.4,735.2 L1175.9,736.3 L1176.4,737.4 L1176.9,738.4 L1177.4,739.5 L1177.9,740.6 L1178.5,741.7 L1179.0,742.7 L1179.5,743.8 L1180.1,744.9 L1180.7,745.9 L1181.2,747.0 L1181.8,748.0 L1182.4,749.1 L1183.0,750.1 L1183.6,751.2 L1184.2,752.2 L1184.8,753.2 L1185.4,754.3 L1186.1,755.3 L1186.7,756.3 L1187.4,757.3 L1188.0,758.3 L1188.7,759.3 L1189.4,760.3 L1190.1,761.3 L1190.8,762.3 L1191.5,763.2 L1192.2,764.2 L1192.9,765.2 L1193.6,766.1 L1194.3,767.1 L1195.1,768.0 L1195.8,768.9 L1196.6,769.9 L1197.4,770.8 L1198.1,771.7 L1198.9,772.6 L1199.7,773.5 L1200.5,774.4 L1201.3,775.3 L1202.2,776.2 L1203.0,777.0 L1203.8,777.9 L1204.7,778.8 L1205.5,779.6 L1206.4,780.4 L1207.3,781.3 L1208.1,782.1 L1209.0,782.9 L1209.9,783.7 L1210.8,784.5 L1211.7,785.3 L1212.6,786.1 L1213.5,786.8 L1214.5,787.6 L1215.4,788.3 L1216.4,789.1 L1217.3,789.8 L1218.3,790.5 L1219.2,791.2 L1220.2,792.0 L1221.2,792.7 L1222.1,793.3 L1223.1,794.0 L1224.1,794.7 L1225.1,795.4 L1226.1,796.0 L1227.1,796.7 L1228.2,797.3 L1229.2,797.9 L1230.2,798.6 L1231.2,799.2 L1232.3,799.8 L1233.3,800.4 L1234.4,801.0 L1235.4,801.6 L1236.5,802.1 L1237.5,802.7 L1238.6,803.3 L1239.6,803.8 L1240.7,804.4 L1241.8,804.9 L1242.9,805.4 L1243.9,805.9 L1245.0,806.5 L1246.1,807.0 L1247.2,807.5 L1248.3,808.0 L1249.4,808.4 L1250.5,808.9 L1251.6,809.4 L1252.7,809.9 L1253.8,810.3 L1254.9,810.8 L1256.0,811.2 L1257.2,811.7 L1258.3,812.1 L1259.4,812.5 L1260.5,813.0 L1261.6,813.4 L1262.8,813.8 L1263.9,814.2 L1265.0,814.6 L1266.2,815.0 L1267.3,815.4 L1268.4,815.8 L1269.6,816.2 L1270.7,816.5 L1271.9,816.9 L1273.0,817.3 L1274.1,817.6 L1275.3,818.0 L1276.4,818.3 L1277.6,818.7 L1278.7,819.0 L1279.9,819.4 L1281.0,819.7 L1282.2,820.0 L1283.4,820.3 L1284.5,820.7 L1285.7,821.0 L1286.8,821.3 L1288.0,821.6 L1289.1,821.9 L1290.3,822.2 L1291.5,822.5 L1292.6,822.8 L1293.8,823.1 L1295.0,823.4 L1296.1,823.7 L1297.3,823.9 L1298.5,824.2 L1299.6,824.5 L1300.8,824.7 L1302.0,825.0 L1303.1,825.3 L1304.3,825.5 L1305.5,825.8 L1306.7,826.0 L1307.8,826.3 L1309.0,826.5 L1310.2,826.8 L1311.4,827.0 L1312.5,827.3 L1313.7,827.5 L1314.9,827.7 L1316.1,828.0 L1317.3,828.2 L1318.4,828.4 L1319.6,828.6 L1320.8,828.9 L1322.0,829.1 L1323.2,829.3 L1324.3,829.5 L1325.5,829.7 L1326.7,829.9 L1327.9,830.1 L1329.1,830.3 L1330.2,830.5 L1331.4,830.7 L1332.6,830.9 L1333.8,831.1 L1335.0,831.3 L1336.2,831.5 L1337.4,831.7 L1338.5,831.9 L1339.7,832.1 L1340.9,832.2 L1342.1,832.4 L1343.3,832.6 L1344.5,832.8 L1345.7,833.0 L1346.8,833.1 L1348.0,833.3 L1349.2,833.5 L1350.4,833.6 L1351.6,833.8 L1352.8,834.0 L1354.0,834.1 L1355.2,834.3 L1356.4,834.5 L1357.5,834.6 L1358.7,834.8 L1359.9,834.9 L1361.1,835.1 L1362.3,835.2 L1363.5,835.4 L1364.7,835.5 L1365.9,835.7 L1367.1,835.8 L1368.3,836.0 L1369.5,836.1 L1370.6,836.3 L1371.8,836.4 L1373.0,836.6 L1374.2,836.7 L1375.4,836.8 L1376.6,837.0 L1377.8,837.1 L1379.0,837.2 L1380.2,837.4 L1381.4,837.5 L1382.6,837.6 L1383.8,837.8 L1385.0,837.9 L1386.1,838.0 L1387.3,838.1 L1388.5,838.3 L1389.7,838.4 L1390.9,838.5 L1392.1,838.6 L1393.3,838.8 L1394.5,838.9 L1395.7,839.0 L1396.9,839.1 L1398.1,839.2 L1399.3,839.3 L1400.5,839.5 L1401.7,839.6 L1402.9,839.7 L1404.1,839.8 L1405.3,839.9 L1406.5,840.0 L1407.6,840.1 L1408.8,840.2 L1410.0,840.3 L1411.2,840.4 L1412.4,840.6 L1413.6,840.7 L1414.8,840.8 L1416.0,840.9 L1417.2,841.0 L1418.4,841.1 L1419.6,841.2 L1420.8,841.3 L1422.0,841.4 L1423.2,841.5 L1424.4,841.6 L1425.6,841.7 L1426.8,841.8 L1428.0,841.9 L1429.2,841.9 L1430.4,842.0 L1431.6,842.1 L1432.8,842.2 L1434.0,842.3 L1435.2,842.4 L1436.4,842.5 L1437.6,842.6 L1438.7,842.7 L1439.9,842.8 L1441.1,842.9 L1442.3,842.9 L1443.5,843.0 L1444.7,843.1 L1445.9,843.2 L1447.1,843.3 L1448.3,843.4 L1449.5,843.4 L1450.7,843.5 L1451.9,843.6 L1453.1,843.7 L1454.3,843.8 L1455.5,843.9 L1456.7,843.9 L1457.9,844.0 L1459.1,844.1 L1460.3,844.2 L1461.5,844.2 L1462.7,844.3 L1463.9,844.4 L1465.1,844.5 L1466.3,844.6 L1467.5,844.6 L1468.7,844.7 L1469.9,844.8 L1471.1,844.8 L1472.3,844.9 L1473.5,845.0 L1474.7,845.1 L1475.9,845.1 L1477.1,845.2 L1478.3,845.3 L1479.5,845.3 L1480.7,845.4 L1481.9,845.5 L1483.1,845.6 L1484.3,845.6 L1485.5,845.7 L1486.7,845.8 L1487.9,845.8 L1489.1,845.9 L1490.3,846.0 L1491.4,846.0 L1492.6,846.1 L1493.8,846.2 L1495.0,846.2 L1496.2,846.3 L1497.4,846.3 L1498.6,846.4 L1499.8,846.5 L1501.0,846.5 L1502.2,846.6 L1503.4,846.7 L1504.6,846.7 L1505.8,846.8 L1507.0,846.8 L1508.2,846.9 L1509.4,847.0 L1510.6,847.0 L1511.8,847.1 L1513.0,847.1 L1514.2,847.2 L1515.4,847.2 L1516.6,847.3 L1517.8,847.4 L1519.0,847.4 L1520.2,847.5 L1521.4,847.5 L1522.6,847.6 L1523.8,847.6 L1525.0,847.7 L1526.2,847.8 L1527.4,847.8 L1528.6,847.9 L1529.8,847.9 L1531.0,848.0 L1532.2,848.0 L1533.4,848.1 L1534.6,848.1 L1535.8,848.2 L1537.0,848.2 L1538.2,848.3 L1539.4,848.3 L1540.6,848.4 L1541.8,848.4 L1543.0,848.5 L1544.2,848.5 L1545.4,848.6 L1546.6,848.6 L1547.8,848.7 L1549.0,848.7 L1550.2,848.8 L1551.4,848.8 L1552.6,848.9 L1553.8,848.9 L1555.0,849.0 L1556.2,849.0 L1557.4,849.1 L1558.6,849.1 L1559.8,849.2 L1561.0,849.2 L1562.2,849.3 L1563.4,849.3 L1564.6,849.3 L1565.8,849.4 L1567.0,849.4 L1568.2,849.5 L1569.4,849.5 L1570.6,849.6 L1571.8,849.6 L1573.0,849.7 L1574.2,849.7 L1575.4,849.8 L1576.6,849.8 L1577.8,849.8 L1579.0,849.9 L1580.2,849.9 L1581.4,850.0 L1582.6,850.0 L1583.8,850.0 L1585.0,850.1 L1586.2,850.1 L1587.4,850.2 L1588.6,850.2 L1589.8,850.3 L1591.0,850.3 L1592.2,850.3 L1593.4,850.4 L1594.6,850.4 L1595.8,850.5 L1597.0,850.5 L1598.2,850.5 L1599.4,850.6 L1600.6,850.6 L1601.8,850.7 L1603.0,850.7 L1604.2,850.7 L1605.4,850.8 L1606.6,850.8 L1607.8,850.8 L1609.0,850.9 L1610.2,850.9 L1611.4,851.0 L1612.6,851.0 L1613.8,851.0 L1615.0,851.1 L1616.2,851.1 L1617.4,851.1 L1618.6,851.2 L1619.8,851.2 L1621.0,851.3 L1622.2,851.3 L1623.4,851.3 L1624.6,851.4 L1625.8,851.4 L1627.0,851.4 L1628.2,851.5 L1629.4,851.5 L1630.6,851.5 L1631.8,851.6 L1633.0,851.6 L1634.2,851.6 L1635.4,851.7 L1636.6,851.7 L1637.8,851.7 L1639.0,851.8 L1640.2,851.8 L1641.4,851.8 L1642.6,851.9 L1643.8,851.9 L1645.0,851.9 L1646.2,852.0 L1647.4,852.0 L1648.6,852.0 L1649.8,852.1 L1651.0,852.1 L1652.2,852.1 L1653.4,852.2 L1654.6,852.2 L1655.8,852.2 L1657.0,852.3 L1658.2,852.3 L1659.4,852.3 L1660.6,852.3 L1661.8,852.4 L1663.0,852.4 L1664.2,852.4 L1665.4,852.5 L1666.6,852.5 L1667.8,852.5 L1669.0,852.6 L1670.2,852.6 L1671.4,852.6 L1672.6,852.7 L1673.8,852.7 L1675.0,852.7 L1676.2,852.7 L1677.4,852.8 L1678.6,852.8 L1679.8,852.8 L1680.9,852.9 L1682.1,852.9 L1683.3,852.9 L1684.5,852.9 L1685.7,853.0 L1686.9,853.0 L1688.1,853.0 L1689.3,853.1 L1690.5,853.1 L1691.7,853.1 L1692.9,853.1 L1694.1,853.2 L1695.3,853.2 L1696.5,853.2 L1697.7,853.2 L1698.9,853.3 L1700.1,853.3 L1701.3,853.3 L1702.5,853.3 L1703.7,853.4 L1704.9,853.4 L1706.1,853.4 L1707.3,853.5 L1708.5,853.5 L1709.7,853.5 L1710.9,853.5 L1712.1,853.6 L1713.3,853.6 L1714.5,853.6 L1715.7,853.6 L1716.9,853.7 L1718.1,853.7 L1719.3,853.7 L1720.5,853.7 L1721.7,853.8 L1722.9,853.8 L1724.1,853.8 L1725.3,853.8 L1726.5,853.9 L1727.7,853.9 L1728.9,853.9 L1730.1,853.9 L1731.3,854.0 L1732.5,854.0 L1733.7,854.0 L1734.9,854.0 L1736.1,854.1 L1737.3,854.1 L1738.5,854.1 L1739.7,854.1 L1740.9,854.1 L1742.1,854.2 L1743.3,854.2 L1744.5,854.2 L1745.7,854.2 L1746.9,854.3 L1748.1,854.3 L1749.3,854.3 L1750.5,854.3 L1751.7,854.4 L1752.9,854.4 L1754.1,854.4 L1755.3,854.4 L1756.5,854.4 L1757.7,854.5 L1758.9,854.5 L1760.1,854.5 L1761.3,854.5 L1762.5,854.5 L1763.7,854.6 L1764.9,854.6 L1766.1,854.6 L1767.3,854.6 L1768.5,854.7 L1769.7,854.7 L1770.9,854.7 L1772.1,854.7 L1773.3,854.7 L1774.5,854.8 L1775.7,854.8 L1776.9,854.8 L1778.1,854.8 L1779.3,854.8 L1780.5,854.9 L1781.7,854.9 L1782.9,854.9 L1784.1,854.9 L1785.3,854.9 L1786.5,855.0 L1787.7,855.0 L1788.9,855.0 L1790.1,855.0 L1791.3,855.0 L1792.5,855.1 L1793.7,855.1 L1794.9,855.1 L1796.1,855.1 L1797.3,855.1 L1798.5,855.2 L1799.7,855.2 L1800.9,855.2 L1802.1,855.2 L1803.3,855.2 L1804.5,855.3 L1805.7,855.3 L1806.9,855.3 L1808.1,855.3 L1809.3,855.3 L1810.5,855.4 L1811.7,855.4 L1812.9,855.4 L1814.1,855.4 L1815.3,855.4 L1816.5,855.5 L1817.7,855.5 L1818.9,855.5 L1820.1,855.5 L1821.3,855.5 L1822.5,855.5 L1823.7,855.6 L1824.9,855.6 L1826.1,855.6 L1827.3,855.6 L1828.5,855.6 L1829.7,855.7 L1830.9,855.7 L1832.1,855.7 L1833.3,855.7 L1834.5,855.7 L1835.7,855.7 L1836.9,855.8 L1838.1,855.8 L1839.3,855.8 L1840.5,855.8 L1841.7,855.8 L1842.9,855.8 L1844.1,855.9 L1845.3,855.9 L1846.5,855.9 L1847.7,855.9 L1848.9,855.9 L1850.1,855.9 L1851.3,856.0 L1852.5,856.0 L1853.7,856.0 L1854.9,856.0 L1856.1,856.0 L1857.3,856.0 L1858.5,856.1 L1859.7,856.1 L1860.9,856.1 L1862.1,856.1 L1863.3,856.1 L1864.5,856.1 L1865.8,856.2 L1867.0,856.2 L1868.2,856.2 L1869.4,856.2 L1870.6,856.2 L1871.8,856.2 L1873.0,856.3 L1874.2,856.3 L1875.4,856.3 L1876.6,856.3 L1877.8,856.3 L1879.0,856.3 L1880.2,856.3 L1881.4,856.4 L1882.6,856.4 L1883.8,856.4 L1885.0,856.4 L1886.2,856.4 L1887.4,856.4 L1888.6,856.5 L1889.8,856.5 L1891.0,856.5 L1892.2,856.5 L1893.4,856.5 L1894.6,856.5 L1895.8,856.5 L1897.0,856.6 L1898.2,856.6 L1899.4,856.6 L1900.6,856.6 L1901.8,856.6 L1903.0,856.6 L1904.2,856.6 L1905.4,856.7 L1906.6,856.7 L1907.8,856.7 L1909.0,856.7 L1910.2,856.7 L1911.4,856.7 L1912.6,856.8 L1913.8,856.8 L1915.0,856.8" stroke="#9d3cff" stroke-width="8" fill="none" stroke-linejoin="round"/>
<path d="M229.0,893.1 L230.2,893.1 L231.4,893.1 L232.6,893.1 L233.8,893.1 L235.0,893.1 L236.2,893.1 L237.4,893.1 L238.6,893.1 L239.8,893.1 L241.0,893.1 L242.2,893.1 L243.4,893.1 L244.6,893.1 L245.8,893.1 L247.0,893.1 L248.2,893.1 L249.4,893.1 L250.6,893.1 L251.8,893.1 L253.0,893.1 L254.2,893.1 L255.4,893.1 L256.6,893.1 L257.8,893.1 L259.0,893.1 L260.2,893.1 L261.4,893.1 L262.6,893.1 L263.8,893.1 L265.0,893.1 L266.2,893.1 L267.4,893.1 L268.6,893.1 L269.8,893.1 L271.0,893.1 L272.2,893.1 L273.4,893.1 L274.7,893.1 L275.9,893.1 L277.1,893.1 L278.3,893.1 L279.5,893.1 L280.7,893.1 L281.9,893.1 L283.1,893.1 L284.3,893.1 L285.5,893.1 L286.7,893.1 L287.9,893.1 L289.1,893.1 L290.3,893.1 L291.5,893.1 L292.7,893.1 L293.9,893.1 L295.1,893.1 L296.3,893.1 L297.5,893.1 L298.7,893.1 L299.9,893.1 L301.1,893.1 L302.3,893.1 L303.5,893.1 L304.7,893.1 L305.9,893.1 L307.1,893.1 L308.3,893.1 L309.5,893.1 L310.7,893.1 L311.9,893.1 L313.1,893.1 L314.3,893.1 L315.5,893.1 L316.7,893.1 L317.9,893.1 L319.1,893.1 L320.3,893.1 L321.5,893.1 L322.7,893.1 L323.9,893.1 L325.1,893.1 L326.3,893.1 L327.5,893.1 L328.7,893.1 L329.9,893.1 L331.1,893.1 L332.3,893.1 L333.5,893.1 L334.7,893.1 L335.9,893.1 L337.1,893.1 L338.3,893.1 L339.5,893.1 L340.7,893.1 L341.9,893.1 L343.1,893.1 L344.3,893.1 L345.5,893.1 L346.7,893.1 L347.9,893.1 L349.1,893.1 L350.3,893.1 L351.5,893.1 L352.7,893.1 L353.9,893.1 L355.1,893.1 L356.3,893.1 L357.5,893.1 L358.7,893.1 L359.9,893.1 L361.1,893.1 L362.3,893.1 L363.5,893.1 L364.7,893.1 L365.9,893.1 L367.1,893.1 L368.3,893.1 L369.5,893.1 L370.7,893.1 L371.9,893.1 L373.1,893.1 L374.3,893.1 L375.5,893.1 L376.7,893.1 L377.9,893.1 L379.1,893.1 L380.3,893.1 L381.5,893.1 L382.7,893.1 L383.9,893.1 L385.1,893.1 L386.3,893.1 L387.5,893.1 L388.7,893.1 L389.9,893.1 L391.1,893.1 L392.3,893.1 L393.5,893.1 L394.7,893.1 L395.9,893.1 L397.1,893.1 L398.3,893.1 L399.5,893.1 L400.7,893.1 L401.9,893.1 L403.1,893.1 L404.3,893.1 L405.5,893.1 L406.7,893.1 L407.9,893.1 L409.1,893.1 L410.3,893.1 L411.5,893.1 L412.7,893.1 L413.9,893.1 L415.1,893.0 L416.3,893.0 L417.5,893.0 L418.7,893.0 L419.9,893.0 L421.1,893.0 L422.3,893.0 L423.5,893.0 L424.7,893.0 L425.9,893.0 L427.1,893.0 L428.3,893.0 L429.5,893.0 L430.7,893.0 L431.9,893.0 L433.1,893.0 L434.3,893.0 L435.5,893.0 L436.7,893.0 L437.9,893.0 L439.1,893.0 L440.3,893.0 L441.5,893.0 L442.7,893.0 L443.9,893.0 L445.1,893.0 L446.3,893.0 L447.5,893.0 L448.7,893.0 L449.9,893.0 L451.1,893.0 L452.3,893.0 L453.5,893.0 L454.7,893.0 L455.9,893.0 L457.1,893.0 L458.3,893.0 L459.5,893.0 L460.7,893.0 L461.9,893.0 L463.1,893.0 L464.3,893.0 L465.5,893.0 L466.7,893.0 L467.9,893.0 L469.1,893.0 L470.3,893.0 L471.5,893.0 L472.7,893.0 L473.9,893.0 L475.1,893.0 L476.3,893.0 L477.5,893.0 L478.7,893.0 L479.9,893.0 L481.1,893.0 L482.3,893.0 L483.5,893.0 L484.7,893.0 L485.9,893.0 L487.1,893.0 L488.3,893.0 L489.5,893.0 L490.7,893.0 L491.9,893.0 L493.1,893.0 L494.3,893.0 L495.5,893.0 L496.7,893.0 L497.9,893.0 L499.1,893.0 L500.3,893.0 L501.5,893.0 L502.7,893.0 L503.9,893.0 L505.1,893.0 L506.3,893.0 L507.5,893.0 L508.7,893.0 L509.9,893.0 L511.1,893.0 L512.3,893.0 L513.5,893.0 L514.7,893.0 L515.9,893.0 L517.1,893.0 L518.3,893.0 L519.5,893.0 L520.7,893.0 L521.9,893.0 L523.1,893.0 L524.3,893.0 L525.5,893.0 L526.7,893.0 L527.9,893.0 L529.1,893.0 L530.3,893.0 L531.5,893.0 L532.7,893.0 L533.9,893.0 L535.1,893.0 L536.3,893.0 L537.5,893.0 L538.7,893.0 L539.9,893.0 L541.1,893.0 L542.3,893.0 L543.5,893.0 L544.7,893.0 L545.9,893.0 L547.1,893.0 L548.3,893.0 L549.5,893.0 L550.7,893.0 L551.9,893.0 L553.1,893.0 L554.3,893.0 L555.5,893.0 L556.7,893.0 L557.9,893.0 L559.1,893.0 L560.3,893.0 L561.5,893.0 L562.7,893.0 L563.9,893.0 L565.1,893.0 L566.3,893.0 L567.5,893.0 L568.7,893.0 L569.9,893.0 L571.1,893.0 L572.3,893.0 L573.5,893.0 L574.7,893.0 L575.9,893.0 L577.1,893.0 L578.3,893.0 L579.5,893.0 L580.7,893.0 L581.9,893.0 L583.1,893.0 L584.3,893.0 L585.5,893.0 L586.7,893.0 L587.9,893.0 L589.1,893.0 L590.3,893.0 L591.5,893.0 L592.7,893.0 L593.9,893.0 L595.1,893.0 L596.3,893.0 L597.5,893.0 L598.7,893.0 L599.9,893.0 L601.1,893.0 L602.3,893.0 L603.5,893.0 L604.7,893.0 L605.9,893.0 L607.1,892.9 L608.3,892.9 L609.5,892.9 L610.7,892.9 L611.9,892.9 L613.1,892.9 L614.3,892.9 L615.5,892.9 L616.7,892.9 L617.9,892.9 L619.1,892.9 L620.3,892.9 L621.5,892.9 L622.7,892.9 L623.9,892.9 L625.1,892.9 L626.3,892.9 L627.5,892.9 L628.7,892.9 L629.9,892.9 L631.1,892.9 L632.3,892.9 L633.5,892.9 L634.7,892.9 L635.9,892.9 L637.1,892.9 L638.3,892.9 L639.5,892.9 L640.7,892.9 L641.9,892.9 L643.1,892.9 L644.3,892.9 L645.5,892.9 L646.7,892.9 L647.9,892.9 L649.1,892.9 L650.3,892.9 L651.5,892.9 L652.7,892.9 L653.9,892.9 L655.1,892.9 L656.3,892.9 L657.5,892.9 L658.7,892.9 L659.9,892.9 L661.1,892.9 L662.3,892.9 L663.5,892.9 L664.7,892.9 L665.9,892.9 L667.1,892.9 L668.3,892.9 L669.5,892.9 L670.7,892.9 L671.9,892.9 L673.1,892.9 L674.3,892.9 L675.5,892.9 L676.7,892.9 L677.9,892.9 L679.1,892.9 L680.3,892.9 L681.5,892.9 L682.7,892.9 L683.9,892.9 L685.1,892.9 L686.3,892.9 L687.5,892.9 L688.7,892.9 L689.9,892.9 L691.1,892.9 L692.3,892.9 L693.5,892.8 L694.7,892.8 L695.9,892.8 L697.1,892.8 L698.3,892.8 L699.5,892.8 L700.7,892.8 L701.9,892.8 L703.1,892.8 L704.3,892.8 L705.5,892.8 L706.7,892.8 L707.9,892.8 L709.1,892.8 L710.3,892.8 L711.5,892.8 L712.7,892.8 L713.9,892.8 L715.1,892.8 L716.3,892.8 L717.5,892.8 L718.7,892.8 L719.9,892.8 L721.1,892.8 L722.3,892.8 L723.5,892.8 L724.7,892.8 L725.9,892.8 L727.1,892.8 L728.3,892.8 L729.5,892.8 L730.7,892.8 L731.9,892.8 L733.1,892.8 L734.3,892.8 L735.5,892.8 L736.7,892.8 L737.9,892.8 L739.1,892.8 L740.3,892.8 L741.5,892.8 L742.7,892.8 L743.9,892.8 L745.1,892.7 L746.3,892.7 L747.5,892.7 L748.7,892.7 L749.9,892.7 L751.1,892.7 L752.3,892.7 L753.5,892.7 L754.7,892.7 L755.9,892.7 L757.1,892.7 L758.3,892.7 L759.5,892.7 L760.7,892.7 L761.9,892.7 L763.1,892.7 L764.3,892.7 L765.5,892.7 L766.7,892.7 L767.9,892.7 L769.1,892.7 L770.3,892.7 L771.5,892.7 L772.7,892.7 L773.9,892.7 L775.1,892.7 L776.3,892.7 L777.5,892.7 L778.7,892.7 L779.9,892.7 L781.1,892.6 L782.3,892.6 L783.5,892.6 L784.7,892.6 L785.9,892.6 L787.1,892.6 L788.3,892.6 L789.5,892.6 L790.7,892.6 L791.9,892.6 L793.1,892.6 L794.3,892.6 L795.5,892.6 L796.7,892.6 L797.9,892.6 L799.1,892.6 L800.3,892.6 L801.5,892.6 L802.7,892.6 L803.9,892.6 L805.1,892.6 L806.3,892.6 L807.5,892.6 L808.7,892.5 L809.9,892.5 L811.1,892.5 L812.3,892.5 L813.5,892.5 L814.7,892.5 L815.9,892.5 L817.1,892.5 L818.3,892.5 L819.5,892.5 L820.7,892.5 L821.9,892.5 L823.1,892.5 L824.3,892.5 L825.5,892.5 L826.7,892.5 L827.9,892.5 L829.1,892.4 L830.3,892.4 L831.5,892.4 L832.7,892.4 L833.9,892.4 L835.1,892.4 L836.3,892.4 L837.5,892.4 L838.7,892.4 L839.9,892.4 L841.1,892.4 L842.3,892.4 L843.5,892.4 L844.7,892.4 L845.9,892.4 L847.1,892.3 L848.3,892.3 L849.5,892.3 L850.7,892.3 L851.9,892.3 L853.1,892.3 L854.3,892.3 L855.5,892.3 L856.7,892.3 L857.9,892.3 L859.1,892.3 L860.3,892.3 L861.5,892.2 L862.7,892.2 L863.9,892.2 L865.1,892.2 L866.3,892.2 L867.5,892.2 L868.7,892.2 L869.9,892.2 L871.1,892.2 L872.3,892.2 L873.5,892.1 L874.7,892.1 L875.9,892.1 L877.1,892.1 L878.3,892.1 L879.5,892.1 L880.7,892.1 L881.9,892.1 L883.1,892.1 L884.3,892.0 L885.5,892.0 L886.7,892.0 L887.9,892.0 L889.1,892.0 L890.3,892.0 L891.5,892.0 L892.7,892.0 L893.9,891.9 L895.1,891.9 L896.3,891.9 L897.5,891.9 L898.7,891.9 L899.9,891.9 L901.1,891.9 L902.3,891.8 L903.5,891.8 L904.7,891.8 L905.9,891.8 L907.1,891.8 L908.3,891.8 L909.5,891.7 L910.7,891.7 L911.9,891.7 L913.1,891.7 L914.3,891.7 L915.5,891.6 L916.7,891.6 L917.9,891.6 L919.1,891.6 L920.3,891.6 L921.5,891.5 L922.7,891.5 L923.9,891.5 L925.1,891.5 L926.3,891.5 L927.5,891.4 L928.7,891.4 L929.9,891.4 L931.1,891.4 L932.3,891.3 L933.5,891.3 L934.7,891.3 L935.9,891.3 L937.1,891.2 L938.3,891.2 L939.5,891.2 L940.7,891.2 L941.9,891.1 L943.1,891.1 L944.3,891.1 L945.5,891.0 L946.7,891.0 L947.9,891.0 L949.1,890.9 L950.3,890.9 L951.5,890.9 L952.7,890.8 L953.9,890.8 L955.1,890.8 L956.3,890.7 L957.5,890.7 L958.7,890.7 L959.9,890.6 L961.1,890.6 L962.3,890.5 L963.5,890.5 L964.7,890.5 L965.9,890.4 L967.1,890.4 L968.3,890.3 L969.5,890.3 L970.7,890.2 L971.9,890.2 L973.1,890.1 L974.3,890.1 L975.5,890.0 L976.7,890.0 L977.9,889.9 L979.1,889.8 L980.3,889.8 L981.5,889.7 L982.7,889.7 L983.9,889.6 L985.1,889.5 L986.3,889.5 L987.5,889.4 L988.7,889.3 L989.9,889.2 L991.1,889.2 L992.3,889.1 L993.5,889.0 L994.7,888.9 L995.9,888.8 L997.1,888.7 L998.2,888.7 L999.4,888.6 L1000.6,888.5 L1001.8,888.4 L1003.0,888.3 L1004.2,888.2 L1005.4,888.0 L1006.6,887.9 L1007.8,887.8 L1009.0,887.7 L1010.2,887.6 L1011.4,887.4 L1012.6,887.3 L1013.8,887.2 L1015.0,887.0 L1016.2,886.9 L1017.4,886.7 L1018.5,886.6 L1019.7,886.4 L1020.9,886.2 L1022.1,886.1 L1023.3,885.9 L1024.5,885.7 L1025.7,885.5 L1026.8,885.3 L1028.0,885.1 L1029.2,884.9 L1030.4,884.6 L1031.6,884.4 L1032.7,884.2 L1033.9,883.9 L1035.1,883.6 L1036.2,883.4 L1037.4,883.1 L1038.6,882.8 L1039.7,882.5 L1040.9,882.2 L1042.0,881.8 L1043.2,881.5 L1044.3,881.1 L1045.5,880.7 L1046.6,880.3 L1047.7,879.9 L1048.9,879.5 L1050.0,879.0 L1051.1,878.6 L1052.2,878.1 L1053.3,877.6 L1054.3,877.1 L1055.4,876.5 L1056.5,876.0 L1057.5,875.4 L1058.5,874.8 L1059.6,874.1 L1060.6,873.5 L1061.6,872.8 L1062.5,872.1 L1063.5,871.4 L1064.4,870.6 L1065.3,869.8 L1066.2,869.0 L1067.1,868.2 L1068.0,867.4 L1068.8,866.5 L1069.7,865.7 L1070.5,864.8 L1071.2,863.9 L1072.0,862.9 L1072.7,862.0 L1073.4,861.0 L1074.1,860.0 L1074.8,859.1 L1075.5,858.0 L1076.1,857.0 L1076.7,856.0 L1077.3,855.0 L1077.9,853.9 L1078.5,852.9 L1079.0,851.8 L1079.6,850.7 L1080.1,849.6 L1080.6,848.5 L1081.1,847.4 L1081.5,846.3 L1082.0,845.2 L1082.4,844.1 L1082.9,843.0 L1083.3,841.9 L1083.7,840.7 L1084.1,839.6 L1084.5,838.5 L1084.9,837.3 L1085.2,836.2 L1085.6,835.1 L1085.9,833.9 L1086.3,832.8 L1086.6,831.6 L1086.9,830.4 L1087.3,829.3 L1087.6,828.1 L1087.9,827.0 L1088.2,825.8 L1088.4,824.6 L1088.7,823.5 L1089.0,822.3 L1089.3,821.1 L1089.5,820.0 L1089.8,818.8 L1090.0,817.6 L1090.3,816.4 L1090.5,815.3 L1090.7,814.1 L1091.0,812.9 L1091.2,811.7 L1091.4,810.5 L1091.6,809.4 L1091.8,808.2 L1092.1,807.0 L1092.3,805.8 L1092.5,804.6 L1092.7,803.5 L1092.9,802.3 L1093.0,801.1 L1093.2,799.9 L1093.4,798.7 L1093.6,797.5 L1093.8,796.3 L1093.9,795.2 L1094.1,794.0 L1094.3,792.8 L1094.4,791.6 L1094.6,790.4 L1094.8,789.2 L1094.9,788.0 L1095.1,786.8 L1095.2,785.6 L1095.4,784.4 L1095.5,783.3 L1095.7,782.1 L1095.8,780.9 L1096.0,779.7 L1096.1,778.5 L1096.2,777.3 L1096.4,776.1 L1096.5,774.9 L1096.6,773.7 L1096.8,772.5 L1096.9,771.3 L1097.0,770.1 L1097.2,768.9 L1097.3,767.8 L1097.4,766.6 L1097.5,765.4 L1097.6,764.2 L1097.8,763.0 L1097.9,761.8 L1098.0,760.6 L1098.1,759.4 L1098.2,758.2 L1098.3,757.0 L1098.4,755.8 L1098.5,754.6 L1098.6,753.4 L1098.8,752.2 L1098.9,751.0 L1099.0,749.8 L1099.1,748.6 L1099.2,747.4 L1099.3,746.2 L1099.4,745.0 L1099.5,743.8 L1099.5,742.7 L1099.6,741.5 L1099.7,740.3 L1099.8,739.1 L1099.9,737.9 L1100.0,736.7 L1100.1,735.5 L1100.2,734.3 L1100.3,733.1 L1100.4,731.9 L1100.5,730.7 L1100.5,729.5 L1100.6,728.3 L1100.7,727.1 L1100.8,725.9 L1100.9,724.7 L1101.0,723.5 L1101.0,722.3 L1101.1,721.1 L1101.2,719.9 L1101.3,718.7 L1101.4,717.5 L1101.4,716.3 L1101.5,715.1 L1101.6,713.9 L1101.7,712.7 L1101.7,711.5 L1101.8,710.3 L1101.9,709.1 L1101.9,707.9 L1102.0,706.7 L1102.1,705.5 L1102.2,704.3 L1102.2,703.1 L1102.3,701.9 L1102.4,700.7 L1102.4,699.5 L1102.5,698.3 L1102.6,697.1 L1102.6,696.0 L1102.7,694.8 L1102.8,693.6 L1102.8,692.4 L1102.9,691.2 L1103.0,690.0 L1103.0,688.8 L1103.1,687.6 L1103.2,686.4 L1103.2,685.2 L1103.3,684.0 L1103.3,682.8 L1103.4,681.6 L1103.5,680.4 L1103.5,679.2 L1103.6,678.0 L1103.6,676.8 L1103.7,675.6 L1103.8,674.4 L1103.8,673.2 L1103.9,672.0 L1103.9,670.8 L1104.0,669.6 L1104.0,668.4 L1104.1,667.2 L1104.1,666.0 L1104.2,664.8 L1104.3,663.6 L1104.3,662.4 L1104.4,661.2 L1104.4,660.0 L1104.5,658.8 L1104.5,657.6 L1104.6,656.4 L1104.6,655.2 L1104.7,654.0 L1104.7,652.8 L1104.8,651.6 L1104.8,650.4 L1104.9,649.2 L1104.9,648.0 L1105.0,646.8 L1105.0,645.6 L1105.1,644.4 L1105.1,643.2 L1105.2,642.0 L1105.2,640.8 L1105.3,639.6 L1105.3,638.4 L1105.4,637.2 L1105.4,636.0 L1105.5,634.8 L1105.5,633.6 L1105.6,632.4 L1105.6,631.2 L1105.7,630.0 L1105.7,628.8 L1105.7,627.6 L1105.8,626.4 L1105.8,625.2 L1105.9,624.0 L1105.9,622.8 L1106.0,621.6 L1106.0,620.4 L1106.1,619.2 L1106.1,618.0 L1106.1,616.8 L1106.2,615.6 L1106.2,614.4 L1106.3,613.2 L1106.3,612.0 L1106.4,610.8 L1106.4,609.6 L1106.4,608.4 L1106.5,607.2 L1106.5,606.0 L1106.6,604.8 L1106.6,603.6 L1106.6,602.4 L1106.7,601.2 L1106.7,600.0 L1106.8,598.8 L1106.8,597.6 L1106.8,596.4 L1106.9,595.2 L1106.9,594.0 L1107.0,592.8 L1107.0,591.6 L1107.0,590.4 L1107.1,589.2 L1107.1,588.0 L1107.1,586.8 L1107.2,585.6 L1107.2,584.4 L1107.3,583.2 L1107.3,582.0 L1107.3,580.8 L1107.4,579.6 L1107.4,578.4 L1107.4,577.2 L1107.5,576.0 L1107.5,574.8 L1107.6,573.6 L1107.6,572.4 L1107.6,571.2 L1107.7,570.0 L1107.7,568.8 L1107.7,567.6 L1107.8,566.4 L1107.8,565.2 L1107.8,564.0 L1107.9,562.8 L1107.9,561.6 L1107.9,560.4 L1108.0,559.2 L1108.0,558.0 L1108.0,556.8 L1108.1,555.6 L1108.1,554.4 L1108.2,553.2 L1108.2,552.0 L1108.2,550.8 L1108.3,549.6 L1108.3,548.4 L1108.3,547.3 L1108.4,546.1 L1108.4,544.9 L1108.4,543.7 L1108.4,542.5 L1108.5,541.3 L1108.5,540.1 L1108.5,538.9 L1108.6,537.7 L1108.6,536.5 L1108.6,535.3 L1108.7,534.1 L1108.7,532.9 L1108.7,531.7 L1108.8,530.5 L1108.8,529.3 L1108.8,528.1 L1108.9,526.9 L1108.9,525.7 L1108.9,524.5 L1109.0,523.3 L1109.0,522.1 L1109.0,520.9 L1109.0,519.7 L1109.1,518.5 L1109.1,517.3 L1109.1,516.1 L1109.2,514.9 L1109.2,513.7 L1109.2,512.5 L1109.3,511.3 L1109.3,510.1 L1109.3,508.9 L1109.3,507.7 L1109.4,506.5 L1109.4,505.3 L1109.4,504.1 L1109.5,502.9 L1109.5,501.7 L1109.5,500.5 L1109.6,499.3 L1109.6,498.1 L1109.6,496.9 L1109.6,495.7 L1109.7,494.5 L1109.7,493.3 L1109.7,492.1 L1109.8,490.9 L1109.8,489.7 L1109.8,488.5 L1109.8,487.3 L1109.9,486.1 L1109.9,484.9 L1109.9,483.7 L1109.9,482.5 L1110.0,481.3 L1110.0,480.1 L1110.0,478.9 L1110.1,477.7 L1110.1,476.5 L1110.1,475.3 L1110.1,474.1 L1110.2,472.9 L1110.2,471.7 L1110.2,470.5 L1110.2,469.3 L1110.3,468.1 L1110.3,466.9 L1110.3,465.7 L1110.4,464.5 L1110.4,463.3 L1110.4,462.1 L1110.4,460.9 L1110.5,459.7 L1110.5,458.5 L1110.5,457.3 L1110.5,456.1 L1110.6,454.9 L1110.6,453.7 L1110.6,452.5 L1110.6,451.3 L1110.7,450.1 L1110.7,448.9 L1110.7,447.7 L1110.7,446.5 L1110.8,445.3 L1110.8,444.1 L1110.8,442.9 L1110.8,441.7 L1110.9,440.5 L1110.9,439.3 L1110.9,438.1 L1110.9,436.9 L1111.0,435.7 L1111.0,434.5 L1111.0,433.3 L1111.0,432.1 L1111.1,430.9 L1111.1,429.7 L1111.1,428.5 L1111.1,427.3 L1111.2,426.1 L1111.2,424.9 L1111.2,423.7 L1111.2,422.5 L1111.3,421.3 L1111.3,420.1 L1111.3,418.9 L1111.3,417.7 L1111.4,416.5 L1111.4,415.3 L1111.4,414.1 L1111.4,412.9 L1111.5,411.7 L1111.5,410.5 L1111.5,409.3 L1111.5,408.1 L1111.6,406.9 L1111.6,405.7 L1111.6,404.5 L1111.6,403.3 L1111.7,402.1 L1111.7,400.9 L1111.7,399.7 L1111.7,398.5 L1111.8,397.3 L1111.8,396.1 L1111.8,394.9 L1111.8,393.7 L1111.8,392.5 L1111.9,391.3 L1111.9,390.1 L1111.9,388.9 L1111.9,387.7 L1112.0,386.5 L1112.0,385.3 L1112.0,384.1 L1112.0,382.9 L1112.1,381.7 L1112.1,380.5 L1112.1,379.3 L1112.1,378.1 L1112.1,376.9 L1112.2,375.7 L1112.2,374.5 L1112.2,373.3 L1112.2,372.1 L1112.3,370.9 L1112.3,369.7 L1112.3,368.5 L1112.3,367.3 L1112.4,366.1 L1112.4,364.9 L1112.4,363.7 L1112.4,362.5 L1112.4,361.3 L1112.5,360.1 L1112.5,358.9 L1112.5,357.7 L1112.5,356.5 L1112.6,355.3 L1112.6,354.1 L1112.6,352.9 L1112.6,351.7 L1112.6,350.5 L1112.7,349.3 L1112.7,348.1 L1112.7,346.9 L1112.7,345.7 L1112.8,344.5 L1112.8,343.3 L1112.8,342.1 L1112.8,340.9 L1112.8,339.7 L1112.9,338.5 L1112.9,337.3 L1112.9,336.1 L1112.9,334.9 L1113.0,333.7 L1113.0,332.5 L1113.0,331.3 L1113.0,330.1 L1113.0,328.9 L1113.1,327.7 L1113.1,326.5 L1113.1,325.3 L1113.1,324.1 L1113.2,322.9 L1113.2,321.7 L1113.2,320.5 L1113.2,319.3 L1113.2,318.1 L1113.3,316.9 L1113.3,315.7 L1113.3,314.5 L1113.3,313.3 L1113.4,312.1 L1113.4,310.9 L1113.4,309.7 L1113.4,308.5 L1113.4,307.3 L1113.5,306.1 L1113.5,304.9 L1113.5,303.7 L1113.5,302.5 L1113.6,301.3 L1113.6,300.1 L1113.6,298.9 L1113.6,297.7 L1113.6,296.5 L1113.7,295.3 L1113.7,294.1 L1113.7,292.9 L1113.7,291.7 L1113.8,290.5 L1113.8,289.3 L1113.8,288.1 L1113.8,286.9 L1113.8,285.7 L1113.9,284.5 L1113.9,283.3 L1113.9,282.1 L1113.9,280.9 L1114.0,279.7 L1114.0,278.5 L1114.0,277.3 L1114.0,276.1 L1114.0,274.9 L1114.1,273.7 L1114.1,272.5 L1114.1,271.3 L1114.1,270.1 L1114.1,268.9 L1114.2,267.7 L1114.2,266.5 L1114.2,265.3 L1114.2,264.1 L1114.3,262.9 L1114.3,261.7 L1114.3,260.5 L1114.3,259.3 L1114.3,258.1 L1114.4,256.9 L1114.4,255.7 L1114.4,254.5 L1114.4,253.3 L1114.5,252.1 L1114.5,250.9 L1114.5,249.7 L1114.5,248.5 L1114.6,247.3 L1114.6,246.1 L1114.6,244.9 L1114.6,243.7 L1114.6,242.5 L1114.7,241.3 L1114.7,240.1 L1114.7,238.9 L1114.7,237.7 L1114.8,236.5 L1114.8,235.3 L1114.8,234.1 L1114.8,232.9 L1114.8,231.7 L1114.9,230.5 L1114.9,229.3 L1114.9,228.1 L1114.9,226.9 L1115.0,225.7 L1115.0,224.5 L1115.0,223.3 L1115.0,222.1 L1115.1,220.9 L1115.1,219.7 L1115.1,218.5 L1115.1,217.3 L1115.1,216.1 L1115.2,214.9 L1115.2,213.7 L1115.2,212.5 L1115.2,211.3 L1115.3,210.1 L1115.3,208.9 L1115.3,207.7 L1115.3,206.5 L1115.4,205.3 L1115.4,204.1 L1115.4,202.9 L1115.4,201.7 L1115.5,200.5 L1115.5,199.3 L1115.5,198.1 L1115.5,196.9 L1115.6,195.7 L1115.6,194.5 L1115.6,193.3 L1115.6,192.1 L1115.7,190.9 L1115.7,189.7 L1115.7,188.5 L1115.7,187.3 L1115.8,186.1 L1115.8,184.9 L1115.8,183.7 L1115.8,182.5 L1115.9,181.3 L1115.9,180.1 L1115.9,178.9 L1115.9,177.7 L1116.0,176.5 L1116.0,175.3 L1116.0,174.1 L1116.0,172.9 L1116.1,171.7 L1116.1,170.5 L1116.1,169.3 L1116.1,168.1 L1116.2,166.9 L1116.2,165.7 L1116.2,164.5 L1116.3,163.3 L1116.3,162.1 L1116.3,160.9 L1116.3,159.7 L1116.4,158.5 L1116.4,157.3 L1116.4,156.1 L1116.5,154.9 L1116.5,153.7 L1116.5,152.5 L1116.5,151.3 L1116.6,150.1 L1116.6,148.9 L1116.6,147.7 L1116.7,146.5 L1116.7,145.3 L1116.7,144.1 L1116.8,142.9 L1116.8,141.7 L1116.8,140.5 L1116.9,139.3 L1116.9,138.1 L1116.9,136.9 L1117.0,135.7 L1117.0,134.5 L1117.0,133.3 L1117.1,132.1 L1117.1,130.9 L1117.1,129.7 L1117.2,128.5 L1117.2,127.3 L1117.3,126.1 L1117.3,124.9 L1117.3,123.7 L1117.4,122.5 L1117.4,121.3 L1117.5,120.1 L1117.5,118.9 L1117.5,117.7 L1117.6,116.5 L1117.6,115.3 L1117.7,114.1 L1117.7,112.9 L1117.8,111.7 L1117.8,110.5 L1117.9,109.3 L1117.9,108.1 L1118.0,106.9 L1118.1,105.7 L1118.1,104.5 L1118.2,103.3 L1118.3,102.1 L1118.3,100.9 L1118.4,99.7 L1118.5,98.5 L1118.7,97.3 L1118.8,96.2 L1119.1,95.0 L1119.2,95.0 L1119.5,96.1 L1119.7,97.3 L1119.8,98.5 L1119.9,99.6 L1120.0,100.8 L1120.1,102.0 L1120.1,103.2 L1120.2,104.4 L1120.3,105.6 L1120.3,106.8 L1120.4,108.0 L1120.5,109.2 L1120.5,110.4 L1120.6,111.6 L1120.6,112.8 L1120.7,114.0 L1120.7,115.2 L1120.8,116.4 L1120.8,117.6 L1120.8,118.8 L1120.9,120.0 L1120.9,121.2 L1121.0,122.4 L1121.0,123.6 L1121.0,124.8 L1121.1,126.0 L1121.1,127.2 L1121.2,128.4 L1121.2,129.6 L1121.2,130.8 L1121.3,132.0 L1121.3,133.2 L1121.3,134.4 L1121.4,135.6 L1121.4,136.8 L1121.4,138.0 L1121.5,139.2 L1121.5,140.4 L1121.5,141.6 L1121.6,142.8 L1121.6,144.0 L1121.6,145.2 L1121.7,146.4 L1121.7,147.6 L1121.7,148.8 L1121.8,150.0 L1121.8,151.2 L1121.8,152.4 L1121.9,153.6 L1121.9,154.8 L1121.9,156.0 L1121.9,157.2 L1122.0,158.4 L1122.0,159.6 L1122.0,160.8 L1122.1,162.0 L1122.1,163.2 L1122.1,164.4 L1122.1,165.6 L1122.2,166.8 L1122.2,168.0 L1122.2,169.2 L1122.3,170.4 L1122.3,171.6 L1122.3,172.8 L1122.3,174.0 L1122.4,175.2 L1122.4,176.4 L1122.4,177.6 L1122.4,178.8 L1122.5,180.0 L1122.5,181.2 L1122.5,182.4 L1122.5,183.6 L1122.6,184.8 L1122.6,186.0 L1122.6,187.2 L1122.6,188.4 L1122.7,189.6 L1122.7,190.8 L1122.7,192.0 L1122.7,193.2 L1122.8,194.4 L1122.8,195.6 L1122.8,196.8 L1122.8,198.0 L1122.9,199.2 L1122.9,200.4 L1122.9,201.6 L1122.9,202.8 L1123.0,204.0 L1123.0,205.2 L1123.0,206.4 L1123.0,207.6 L1123.1,208.8 L1123.1,210.0 L1123.1,211.2 L1123.1,212.4 L1123.2,213.6 L1123.2,214.8 L1123.2,216.0 L1123.2,217.2 L1123.3,218.4 L1123.3,219.6 L1123.3,220.8 L1123.3,222.0 L1123.3,223.2 L1123.4,224.4 L1123.4,225.6 L1123.4,226.8 L1123.4,228.0 L1123.5,229.2 L1123.5,230.4 L1123.5,231.6 L1123.5,232.8 L1123.6,234.0 L1123.6,235.2 L1123.6,236.4 L1123.6,237.6 L1123.6,238.8 L1123.7,240.0 L1123.7,241.2 L1123.7,242.4 L1123.7,243.6 L1123.8,244.8 L1123.8,246.0 L1123.8,247.2 L1123.8,248.4 L1123.8,249.6 L1123.9,250.8 L1123.9,252.0 L1123.9,253.2 L1123.9,254.4 L1124.0,255.6 L1124.0,256.8 L1124.0,258.0 L1124.0,259.2 L1124.1,260.4 L1124.1,261.6 L1124.1,262.8 L1124.1,264.0 L1124.1,265.2 L1124.2,266.4 L1124.2,267.6 L1124.2,268.8 L1124.2,270.0 L1124.3,271.2 L1124.3,272.4 L1124.3,273.6 L1124.3,274.8 L1124.3,276.0 L1124.4,277.2 L1124.4,278.4 L1124.4,279.6 L1124.4,280.8 L1124.5,282.0 L1124.5,283.2 L1124.5,284.4 L1124.5,285.6 L1124.5,286.8 L1124.6,288.0 L1124.6,289.2 L1124.6,290.4 L1124.6,291.6 L1124.7,292.8 L1124.7,294.0 L1124.7,295.2 L1124.7,296.4 L1124.7,297.6 L1124.8,298.8 L1124.8,300.0 L1124.8,301.2 L1124.8,302.4 L1124.9,303.6 L1124.9,304.8 L1124.9,306.0 L1124.9,307.2 L1124.9,308.4 L1125.0,309.6 L1125.0,310.8 L1125.0,312.0 L1125.0,313.2 L1125.1,314.4 L1125.1,315.6 L1125.1,316.8 L1125.1,318.0 L1125.1,319.2 L1125.2,320.4 L1125.2,321.6 L1125.2,322.8 L1125.2,324.0 L1125.3,325.2 L1125.3,326.4 L1125.3,327.6 L1125.3,328.8 L1125.3,330.0 L1125.4,331.2 L1125.4,332.4 L1125.4,333.6 L1125.4,334.8 L1125.5,336.0 L1125.5,337.2 L1125.5,338.4 L1125.5,339.6 L1125.5,340.8 L1125.6,342.0 L1125.6,343.2 L1125.6,344.4 L1125.6,345.6 L1125.7,346.8 L1125.7,348.0 L1125.7,349.2 L1125.7,350.4 L1125.7,351.6 L1125.8,352.8 L1125.8,354.0 L1125.8,355.2 L1125.8,356.4 L1125.9,357.6 L1125.9,358.8 L1125.9,360.0 L1125.9,361.2 L1126.0,362.4 L1126.0,363.6 L1126.0,364.8 L1126.0,366.0 L1126.0,367.2 L1126.1,368.4 L1126.1,369.6 L1126.1,370.8 L1126.1,372.0 L1126.2,373.2 L1126.2,374.4 L1126.2,375.6 L1126.2,376.8 L1126.3,378.0 L1126.3,379.2 L1126.3,380.4 L1126.3,381.6 L1126.3,382.8 L1126.4,384.0 L1126.4,385.2 L1126.4,386.4 L1126.4,387.6 L1126.5,388.8 L1126.5,390.0 L1126.5,391.2 L1126.5,392.4 L1126.6,393.6 L1126.6,394.8 L1126.6,396.0 L1126.6,397.2 L1126.7,398.4 L1126.7,399.6 L1126.7,400.8 L1126.7,402.0 L1126.8,403.2 L1126.8,404.4 L1126.8,405.6 L1126.8,406.8 L1126.8,408.0 L1126.9,409.2 L1126.9,410.4 L1126.9,411.6 L1126.9,412.8 L1127.0,414.0 L1127.0,415.2 L1127.0,416.4 L1127.0,417.6 L1127.1,418.8 L1127.1,420.0 L1127.1,421.2 L1127.1,422.4 L1127.2,423.6 L1127.2,424.8 L1127.2,426.0 L1127.2,427.2 L1127.3,428.4 L1127.3,429.6 L1127.3,430.8 L1127.3,432.0 L1127.4,433.2 L1127.4,434.4 L1127.4,435.6 L1127.4,436.8 L1127.5,438.0 L1127.5,439.2 L1127.5,440.4 L1127.5,441.6 L1127.6,442.8 L1127.6,444.0 L1127.6,445.2 L1127.6,446.4 L1127.7,447.6 L1127.7,448.8 L1127.7,450.0 L1127.8,451.2 L1127.8,452.4 L1127.8,453.6 L1127.8,454.8 L1127.9,456.0 L1127.9,457.2 L1127.9,458.4 L1127.9,459.6 L1128.0,460.8 L1128.0,462.0 L1128.0,463.2 L1128.0,464.4 L1128.1,465.6 L1128.1,466.8 L1128.1,468.0 L1128.2,469.2 L1128.2,470.4 L1128.2,471.6 L1128.2,472.8 L1128.3,474.0 L1128.3,475.2 L1128.3,476.4 L1128.3,477.6 L1128.4,478.8 L1128.4,480.0 L1128.4,481.2 L1128.5,482.4 L1128.5,483.6 L1128.5,484.8 L1128.5,486.0 L1128.6,487.2 L1128.6,488.4 L1128.6,489.6 L1128.7,490.8 L1128.7,492.0 L1128.7,493.2 L1128.7,494.4 L1128.8,495.6 L1128.8,496.8 L1128.8,498.0 L1128.9,499.2 L1128.9,500.4 L1128.9,501.6 L1128.9,502.8 L1129.0,504.0 L1129.0,505.2 L1129.0,506.4 L1129.1,507.6 L1129.1,508.8 L1129.1,510.0 L1129.2,511.2 L1129.2,512.4 L1129.2,513.6 L1129.2,514.8 L1129.3,516.0 L1129.3,517.2 L1129.3,518.4 L1129.4,519.6 L1129.4,520.8 L1129.4,522.0 L1129.5,523.2 L1129.5,524.4 L1129.5,525.6 L1129.6,526.8 L1129.6,528.0 L1129.6,529.2 L1129.7,530.4 L1129.7,531.6 L1129.7,532.8 L1129.7,534.0 L1129.8,535.2 L1129.8,536.4 L1129.8,537.6 L1129.9,538.8 L1129.9,540.0 L1129.9,541.2 L1130.0,542.4 L1130.0,543.6 L1130.0,544.8 L1130.1,546.0 L1130.1,547.2 L1130.1,548.4 L1130.2,549.6 L1130.2,550.8 L1130.2,552.0 L1130.3,553.2 L1130.3,554.4 L1130.3,555.6 L1130.4,556.8 L1130.4,558.0 L1130.5,559.2 L1130.5,560.4 L1130.5,561.6 L1130.6,562.8 L1130.6,564.0 L1130.6,565.2 L1130.7,566.4 L1130.7,567.6 L1130.7,568.8 L1130.8,570.0 L1130.8,571.2 L1130.8,572.4 L1130.9,573.6 L1130.9,574.8 L1131.0,576.0 L1131.0,577.2 L1131.0,578.4 L1131.1,579.6 L1131.1,580.8 L1131.1,582.0 L1131.2,583.2 L1131.2,584.4 L1131.3,585.6 L1131.3,586.7 L1131.3,587.9 L1131.4,589.1 L1131.4,590.3 L1131.5,591.5 L1131.5,592.7 L1131.5,593.9 L1131.6,595.1 L1131.6,596.3 L1131.7,597.5 L1131.7,598.7 L1131.7,599.9 L1131.8,601.1 L1131.8,602.3 L1131.9,603.5 L1131.9,604.7 L1131.9,605.9 L1132.0,607.1 L1132.0,608.3 L1132.1,609.5 L1132.1,610.7 L1132.2,611.9 L1132.2,613.1 L1132.2,614.3 L1132.3,615.5 L1132.3,616.7 L1132.4,617.9 L1132.4,619.1 L1132.5,620.3 L1132.5,621.5 L1132.6,622.7 L1132.6,623.9 L1132.6,625.1 L1132.7,626.3 L1132.7,627.5 L1132.8,628.7 L1132.8,629.9 L1132.9,631.1 L1132.9,632.3 L1133.0,633.5 L1133.0,634.7 L1133.1,635.9 L1133.1,637.1 L1133.2,638.3 L1133.2,639.5 L1133.3,640.7 L1133.3,641.9 L1133.4,643.1 L1133.4,644.3 L1133.5,645.5 L1133.5,646.7 L1133.6,647.9 L1133.6,649.1 L1133.7,650.3 L1133.7,651.5 L1133.8,652.7 L1133.8,653.9 L1133.9,655.1 L1133.9,656.3 L1134.0,657.5 L1134.0,658.7 L1134.1,659.9 L1134.1,661.1 L1134.2,662.3 L1134.3,663.5 L1134.3,664.7 L1134.4,665.9 L1134.4,667.1 L1134.5,668.3 L1134.5,669.5 L1134.6,670.7 L1134.7,671.9 L1134.7,673.1 L1134.8,674.3 L1134.8,675.5 L1134.9,676.7 L1134.9,677.9 L1135.0,679.1 L1135.1,680.3 L1135.1,681.5 L1135.2,682.7 L1135.3,683.9 L1135.3,685.1 L1135.4,686.3 L1135.4,687.5 L1135.5,688.7 L1135.6,689.9 L1135.6,691.1 L1135.7,692.3 L1135.8,693.5 L1135.8,694.7 L1135.9,695.9 L1136.0,697.1 L1136.0,698.3 L1136.1,699.5 L1136.2,700.7 L1136.3,701.9 L1136.3,703.0 L1136.4,704.2 L1136.5,705.4 L1136.5,706.6 L1136.6,707.8 L1136.7,709.0 L1136.8,710.2 L1136.8,711.4 L1136.9,712.6 L1137.0,713.8 L1137.1,715.0 L1137.2,716.2 L1137.2,717.4 L1137.3,718.6 L1137.4,719.8 L1137.5,721.0 L1137.6,722.2 L1137.6,723.4 L1137.7,724.6 L1137.8,725.8 L1137.9,727.0 L1138.0,728.2 L1138.1,729.4 L1138.2,730.6 L1138.2,731.8 L1138.3,733.0 L1138.4,734.2 L1138.5,735.4 L1138.6,736.6 L1138.7,737.8 L1138.8,739.0 L1138.9,740.2 L1139.0,741.4 L1139.1,742.6 L1139.2,743.8 L1139.3,744.9 L1139.4,746.1 L1139.5,747.3 L1139.6,748.5 L1139.7,749.7 L1139.8,750.9 L1139.9,752.1 L1140.0,753.3 L1140.1,754.5 L1140.2,755.7 L1140.3,756.9 L1140.5,758.1 L1140.6,759.3 L1140.7,760.5 L1140.8,761.7 L1140.9,762.9 L1141.1,764.1 L1141.2,765.3 L1141.3,766.5 L1141.4,767.6 L1141.6,768.8 L1141.7,770.0 L1141.8,771.2 L1141.9,772.4 L1142.1,773.6 L1142.2,774.8 L1142.4,776.0 L1142.5,777.2 L1142.6,778.4 L1142.8,779.6 L1142.9,780.8 L1143.1,782.0 L1143.2,783.1 L1143.4,784.3 L1143.5,785.5 L1143.7,786.7 L1143.9,787.9 L1144.0,789.1 L1144.2,790.3 L1144.4,791.5 L1144.5,792.7 L1144.7,793.8 L1144.9,795.0 L1145.1,796.2 L1145.2,797.4 L1145.4,798.6 L1145.6,799.8 L1145.8,801.0 L1146.0,802.1 L1146.2,803.3 L1146.4,804.5 L1146.6,805.7 L1146.8,806.9 L1147.1,808.1 L1147.3,809.2 L1147.5,810.4 L1147.7,811.6 L1148.0,812.8 L1148.2,813.9 L1148.5,815.1 L1148.7,816.3 L1149.0,817.5 L1149.2,818.6 L1149.5,819.8 L1149.8,821.0 L1150.0,822.1 L1150.3,823.3 L1150.6,824.5 L1150.9,825.6 L1151.2,826.8 L1151.5,828.0 L1151.9,829.1 L1152.2,830.3 L1152.5,831.4 L1152.9,832.6 L1153.2,833.7 L1153.6,834.9 L1154.0,836.0 L1154.3,837.1 L1154.7,838.3 L1155.1,839.4 L1155.6,840.5 L1156.0,841.6 L1156.4,842.8 L1156.9,843.9 L1157.3,845.0 L1157.8,846.1 L1158.3,847.2 L1158.8,848.3 L1159.3,849.3 L1159.9,850.4 L1160.4,851.5 L1161.0,852.5 L1161.6,853.6 L1162.2,854.6 L1162.8,855.6 L1163.5,856.7 L1164.1,857.7 L1164.8,858.6 L1165.5,859.6 L1166.2,860.6 L1167.0,861.5 L1167.7,862.4 L1168.5,863.4 L1169.3,864.2 L1170.1,865.1 L1171.0,866.0 L1171.8,866.8 L1172.7,867.6 L1173.6,868.4 L1174.5,869.2 L1175.5,869.9 L1176.4,870.7 L1177.4,871.4 L1178.4,872.1 L1179.4,872.7 L1180.4,873.4 L1181.4,874.0 L1182.5,874.6 L1183.5,875.2 L1184.6,875.7 L1185.7,876.2 L1186.8,876.8 L1187.8,877.2 L1188.9,877.7 L1190.1,878.2 L1191.2,878.6 L1192.3,879.0 L1193.4,879.5 L1194.6,879.8 L1195.7,880.2 L1196.8,880.6 L1198.0,880.9 L1199.1,881.3 L1200.3,881.6 L1201.5,881.9 L1202.6,882.2 L1203.8,882.5 L1205.0,882.7 L1206.1,883.0 L1207.3,883.3 L1208.5,883.5 L1209.7,883.8 L1210.8,884.0 L1212.0,884.2 L1213.2,884.4 L1214.4,884.6 L1215.6,884.8 L1216.7,885.0 L1217.9,885.2 L1219.1,885.4 L1220.3,885.5 L1221.5,885.7 L1222.7,885.9 L1223.9,886.0 L1225.1,886.2 L1226.3,886.3 L1227.4,886.5 L1228.6,886.6 L1229.8,886.7 L1231.0,886.9 L1232.2,887.0 L1233.4,887.1 L1234.6,887.2 L1235.8,887.3 L1237.0,887.5 L1238.2,887.6 L1239.4,887.7 L1240.6,887.8 L1241.8,887.9 L1243.0,888.0 L1244.2,888.1 L1245.4,888.1 L1246.6,888.2 L1247.8,888.3 L1249.0,888.4 L1250.2,888.5 L1251.3,888.6 L1252.5,888.6 L1253.7,888.7 L1254.9,888.8 L1256.1,888.9 L1257.3,888.9 L1258.5,889.0 L1259.7,889.1 L1260.9,889.1 L1262.1,889.2 L1263.3,889.3 L1264.5,889.3 L1265.7,889.4 L1266.9,889.4 L1268.1,889.5 L1269.3,889.5 L1270.5,889.6 L1271.7,889.6 L1272.9,889.7 L1274.1,889.7 L1275.3,889.8 L1276.5,889.8 L1277.7,889.9 L1278.9,889.9 L1280.1,890.0 L1281.3,890.0 L1282.5,890.1 L1283.7,890.1 L1284.9,890.1 L1286.1,890.2 L1287.3,890.2 L1288.5,890.3 L1289.7,890.3 L1290.9,890.3 L1292.1,890.4 L1293.3,890.4 L1294.5,890.4 L1295.7,890.5 L1296.9,890.5 L1298.1,890.5 L1299.3,890.6 L1300.5,890.6 L1301.7,890.6 L1302.9,890.7 L1304.1,890.7 L1305.3,890.7 L1306.5,890.8 L1307.7,890.8 L1308.9,890.8 L1310.1,890.8 L1311.3,890.9 L1312.5,890.9 L1313.7,890.9 L1314.9,890.9 L1316.1,891.0 L1317.3,891.0 L1318.5,891.0 L1319.7,891.0 L1320.9,891.1 L1322.1,891.1 L1323.3,891.1 L1324.5,891.1 L1325.7,891.1 L1326.9,891.2 L1328.1,891.2 L1329.3,891.2 L1330.5,891.2 L1331.7,891.3 L1332.9,891.3 L1334.1,891.3 L1335.3,891.3 L1336.5,891.3 L1337.7,891.3 L1338.9,891.4 L1340.1,891.4 L1341.3,891.4 L1342.5,891.4 L1343.7,891.4 L1344.9,891.4 L1346.1,891.5 L1347.3,891.5 L1348.5,891.5 L1349.7,891.5 L1350.9,891.5 L1352.1,891.5 L1353.3,891.6 L1354.5,891.6 L1355.7,891.6 L1356.9,891.6 L1358.1,891.6 L1359.3,891.6 L1360.5,891.6 L1361.7,891.7 L1362.9,891.7 L1364.1,891.7 L1365.3,891.7 L1366.5,891.7 L1367.7,891.7 L1368.9,891.7 L1370.1,891.7 L1371.3,891.8 L1372.5,891.8 L1373.7,891.8 L1374.9,891.8 L1376.1,891.8 L1377.3,891.8 L1378.5,891.8 L1379.7,891.8 L1380.9,891.8 L1382.1,891.9 L1383.3,891.9 L1384.5,891.9 L1385.7,891.9 L1386.9,891.9 L1388.1,891.9 L1389.3,891.9 L1390.5,891.9 L1391.7,891.9 L1392.9,891.9 L1394.1,892.0 L1395.3,892.0 L1396.5,892.0 L1397.7,892.0 L1398.9,892.0 L1400.1,892.0 L1401.3,892.0 L1402.5,892.0 L1403.7,892.0 L1404.9,892.0 L1406.1,892.0 L1407.3,892.0 L1408.5,892.1 L1409.7,892.1 L1410.9,892.1 L1412.1,892.1 L1413.3,892.1 L1414.5,892.1 L1415.7,892.1 L1416.9,892.1 L1418.1,892.1 L1419.3,892.1 L1420.5,892.1 L1421.7,892.1 L1422.9,892.1 L1424.1,892.2 L1425.3,892.2 L1426.5,892.2 L1427.7,892.2 L1428.9,892.2 L1430.1,892.2 L1431.3,892.2 L1432.5,892.2 L1433.7,892.2 L1434.9,892.2 L1436.1,892.2 L1437.3,892.2 L1438.5,892.2 L1439.7,892.2 L1440.9,892.2 L1442.1,892.2 L1443.3,892.3 L1444.5,892.3 L1445.7,892.3 L1446.9,892.3 L1448.1,892.3 L1449.3,892.3 L1450.5,892.3 L1451.7,892.3 L1452.9,892.3 L1454.1,892.3 L1455.3,892.3 L1456.5,892.3 L1457.7,892.3 L1458.9,892.3 L1460.1,892.3 L1461.3,892.3 L1462.5,892.3 L1463.7,892.3 L1464.9,892.3 L1466.1,892.4 L1467.3,892.4 L1468.5,892.4 L1469.7,892.4 L1470.9,892.4 L1472.1,892.4 L1473.3,892.4 L1474.5,892.4 L1475.7,892.4 L1476.9,892.4 L1478.1,892.4 L1479.3,892.4 L1480.5,892.4 L1481.7,892.4 L1482.9,892.4 L1484.1,892.4 L1485.3,892.4 L1486.5,892.4 L1487.7,892.4 L1488.9,892.4 L1490.1,892.4 L1491.3,892.4 L1492.5,892.4 L1493.7,892.5 L1494.9,892.5 L1496.1,892.5 L1497.3,892.5 L1498.5,892.5 L1499.7,892.5 L1500.9,892.5 L1502.1,892.5 L1503.3,892.5 L1504.5,892.5 L1505.7,892.5 L1506.9,892.5 L1508.1,892.5 L1509.3,892.5 L1510.5,892.5 L1511.7,892.5 L1512.9,892.5 L1514.1,892.5 L1515.3,892.5 L1516.5,892.5 L1517.7,892.5 L1518.9,892.5 L1520.1,892.5 L1521.3,892.5 L1522.5,892.5 L1523.7,892.5 L1524.9,892.5 L1526.1,892.5 L1527.3,892.5 L1528.5,892.5 L1529.7,892.6 L1530.9,892.6 L1532.1,892.6 L1533.3,892.6 L1534.5,892.6 L1535.7,892.6 L1536.9,892.6 L1538.1,892.6 L1539.3,892.6 L1540.5,892.6 L1541.7,892.6 L1542.9,892.6 L1544.1,892.6 L1545.3,892.6 L1546.5,892.6 L1547.7,892.6 L1548.9,892.6 L1550.1,892.6 L1551.3,892.6 L1552.5,892.6 L1553.7,892.6 L1554.9,892.6 L1556.1,892.6 L1557.3,892.6 L1558.5,892.6 L1559.7,892.6 L1560.9,892.6 L1562.1,892.6 L1563.3,892.6 L1564.5,892.6 L1565.7,892.6 L1566.9,892.6 L1568.1,892.6 L1569.3,892.6 L1570.5,892.6 L1571.7,892.6 L1572.9,892.6 L1574.1,892.6 L1575.3,892.6 L1576.5,892.6 L1577.7,892.6 L1578.9,892.7 L1580.1,892.7 L1581.3,892.7 L1582.5,892.7 L1583.7,892.7 L1584.9,892.7 L1586.1,892.7 L1587.3,892.7 L1588.5,892.7 L1589.7,892.7 L1590.9,892.7 L1592.1,892.7 L1593.3,892.7 L1594.5,892.7 L1595.7,892.7 L1596.9,892.7 L1598.1,892.7 L1599.3,892.7 L1600.5,892.7 L1601.7,892.7 L1602.9,892.7 L1604.1,892.7 L1605.3,892.7 L1606.5,892.7 L1607.7,892.7 L1608.9,892.7 L1610.1,892.7 L1611.3,892.7 L1612.5,892.7 L1613.7,892.7 L1614.9,892.7 L1616.1,892.7 L1617.3,892.7 L1618.5,892.7 L1619.7,892.7 L1620.9,892.7 L1622.1,892.7 L1623.3,892.7 L1624.5,892.7 L1625.7,892.7 L1626.9,892.7 L1628.1,892.7 L1629.3,892.7 L1630.5,892.7 L1631.7,892.7 L1632.9,892.7 L1634.1,892.7 L1635.3,892.7 L1636.5,892.7 L1637.7,892.7 L1638.9,892.7 L1640.1,892.7 L1641.3,892.7 L1642.5,892.7 L1643.7,892.7 L1644.9,892.7 L1646.1,892.7 L1647.3,892.8 L1648.5,892.8 L1649.7,892.8 L1650.9,892.8 L1652.1,892.8 L1653.3,892.8 L1654.5,892.8 L1655.7,892.8 L1656.9,892.8 L1658.1,892.8 L1659.3,892.8 L1660.5,892.8 L1661.7,892.8 L1662.9,892.8 L1664.1,892.8 L1665.3,892.8 L1666.5,892.8 L1667.7,892.8 L1668.9,892.8 L1670.1,892.8 L1671.3,892.8 L1672.5,892.8 L1673.7,892.8 L1674.9,892.8 L1676.1,892.8 L1677.3,892.8 L1678.5,892.8 L1679.7,892.8 L1680.9,892.8 L1682.1,892.8 L1683.3,892.8 L1684.5,892.8 L1685.7,892.8 L1686.9,892.8 L1688.1,892.8 L1689.3,892.8 L1690.5,892.8 L1691.7,892.8 L1692.9,892.8 L1694.1,892.8 L1695.3,892.8 L1696.5,892.8 L1697.7,892.8 L1698.9,892.8 L1700.1,892.8 L1701.3,892.8 L1702.5,892.8 L1703.7,892.8 L1704.9,892.8 L1706.1,892.8 L1707.3,892.8 L1708.5,892.8 L1709.7,892.8 L1710.9,892.8 L1712.1,892.8 L1713.3,892.8 L1714.5,892.8 L1715.7,892.8 L1716.9,892.8 L1718.1,892.8 L1719.3,892.8 L1720.5,892.8 L1721.7,892.8 L1722.9,892.8 L1724.1,892.8 L1725.3,892.8 L1726.5,892.8 L1727.7,892.8 L1728.9,892.8 L1730.1,892.8 L1731.3,892.8 L1732.5,892.8 L1733.7,892.8 L1734.9,892.8 L1736.1,892.8 L1737.3,892.8 L1738.5,892.8 L1739.7,892.8 L1740.9,892.8 L1742.1,892.8 L1743.3,892.8 L1744.5,892.8 L1745.7,892.8 L1746.9,892.8 L1748.1,892.8 L1749.3,892.8 L1750.5,892.8 L1751.7,892.8 L1752.9,892.8 L1754.1,892.8 L1755.3,892.8 L1756.5,892.9 L1757.7,892.9 L1758.9,892.9 L1760.1,892.9 L1761.3,892.9 L1762.5,892.9 L1763.7,892.9 L1764.9,892.9 L1766.1,892.9 L1767.3,892.9 L1768.5,892.9 L1769.7,892.9 L1770.9,892.9 L1772.1,892.9 L1773.3,892.9 L1774.5,892.9 L1775.7,892.9 L1776.9,892.9 L1778.1,892.9 L1779.3,892.9 L1780.5,892.9 L1781.7,892.9 L1782.9,892.9 L1784.1,892.9 L1785.3,892.9 L1786.5,892.9 L1787.7,892.9 L1788.9,892.9 L1790.1,892.9 L1791.3,892.9 L1792.5,892.9 L1793.7,892.9 L1794.9,892.9 L1796.1,892.9 L1797.3,892.9 L1798.5,892.9 L1799.7,892.9 L1800.9,892.9 L1802.1,892.9 L1803.3,892.9 L1804.5,892.9 L1805.7,892.9 L1806.9,892.9 L1808.1,892.9 L1809.3,892.9 L1810.5,892.9 L1811.7,892.9 L1812.9,892.9 L1814.1,892.9 L1815.3,892.9 L1816.5,892.9 L1817.7,892.9 L1818.9,892.9 L1820.1,892.9 L1821.3,892.9 L1822.5,892.9 L1823.7,892.9 L1824.9,892.9 L1826.1,892.9 L1827.3,892.9 L1828.5,892.9 L1829.7,892.9 L1830.9,892.9 L1832.1,892.9 L1833.3,892.9 L1834.5,892.9 L1835.7,892.9 L1836.9,892.9 L1838.1,892.9 L1839.3,892.9 L1840.5,892.9 L1841.7,892.9 L1842.9,892.9 L1844.1,892.9 L1845.3,892.9 L1846.5,892.9 L1847.7,892.9 L1848.9,892.9 L1850.1,892.9 L1851.3,892.9 L1852.5,892.9 L1853.7,892.9 L1854.9,892.9 L1856.1,892.9 L1857.3,892.9 L1858.5,892.9 L1859.7,892.9 L1860.9,892.9 L1862.1,892.9 L1863.3,892.9 L1864.5,892.9 L1865.7,892.9 L1866.9,892.9 L1868.1,892.9 L1869.3,892.9 L1870.6,892.9 L1871.8,892.9 L1873.0,892.9 L1874.2,892.9 L1875.4,892.9 L1876.6,892.9 L1877.8,892.9 L1879.0,892.9 L1880.2,892.9 L1881.4,892.9 L1882.6,892.9 L1883.8,892.9 L1885.0,892.9 L1886.2,892.9 L1887.4,892.9 L1888.6,892.9 L1889.8,892.9 L1891.0,892.9 L1892.2,892.9 L1893.4,892.9 L1894.6,892.9 L1895.8,892.9 L1897.0,892.9 L1898.2,892.9 L1899.4,892.9 L1900.6,892.9 L1901.8,892.9 L1903.0,892.9 L1904.2,892.9 L1905.4,892.9 L1906.6,892.9 L1907.8,892.9 L1909.0,892.9 L1910.2,892.9 L1911.4,892.9 L1912.6,892.9 L1913.8,892.9 L1915.0,892.9" stroke="#009300" stroke-width="8" fill="none" stroke-linejoin="round"/>
<g font-family="'Liberation Sans', Arial, sans-serif" font-size="58" fill="#000"><text x="199" y="1389.0" text-anchor="end">-60</text><text x="199" y="1229.4" text-anchor="end">-40</text><text x="199" y="1069.8" text-anchor="end">-20</text><text x="199" y="910.1" text-anchor="end">0</text><text x="199" y="750.5" text-anchor="end">20</text><text x="199" y="590.9" text-anchor="end">40</text><text x="199" y="431.2" text-anchor="end">60</text><text x="199" y="271.6" text-anchor="end">80</text><text x="199" y="112.0" text-anchor="end">100</text><text x="230.0" y="1446" text-anchor="middle">300</text><text x="510.7" y="1446" text-anchor="middle">350</text><text x="791.3" y="1446" text-anchor="middle">400</text><text x="1072.0" y="1446" text-anchor="middle">450</text><text x="1352.7" y="1446" text-anchor="middle">500</text><text x="1633.3" y="1446" text-anchor="middle">550</text><text x="1914.0" y="1446" text-anchor="middle">600</text></g>
<text x="1071" y="1552" text-anchor="middle" font-family="'Liberation Sans', Arial, sans-serif" font-size="69" letter-spacing="0.5">wavelenght (nm)</text>
<text transform="translate(75,692.5) rotate(-90)" text-anchor="middle" font-family="'Liberation Sans', Arial, sans-serif" font-size="70.5" textLength="308" lengthAdjust="spacing">Re <tspan font-family="'Noto Serif CJK SC', 'Liberation Serif', serif" font-size="65">ε</tspan>, Im <tspan font-family="'Noto Serif CJK SC', 'Liberation Serif', serif" font-size="65">ε</tspan></text>
<rect x="437" y="166" width="558" height="497" fill="#fff" stroke="none"/>
<clipPath id="ic"><rect x="437" y="166" width="558" height="497"/></clipPath>
<g clip-path="url(#ic)"><path d="M399.8,91.4 L400.8,92.1 L401.8,92.8 L402.8,93.4 L403.8,94.1 L404.8,94.7 L405.8,95.4 L406.8,96.0 L407.8,96.7 L408.8,97.4 L409.8,98.0 L410.8,98.7 L411.8,99.4 L412.8,100.0 L413.8,100.7 L414.8,101.3 L415.8,102.0 L416.8,102.7 L417.8,103.3 L418.8,104.0 L419.8,104.7 L420.8,105.3 L421.8,106.0 L422.8,106.7 L423.8,107.4 L424.8,108.0 L425.8,108.7 L426.8,109.4 L427.8,110.1 L428.8,110.7 L429.8,111.4 L430.8,112.1 L431.8,112.8 L432.8,113.4 L433.8,114.1 L434.7,114.8 L435.7,115.5 L436.7,116.2 L437.7,116.8 L438.7,117.5 L439.7,118.2 L440.7,118.9 L441.7,119.6 L442.6,120.3 L443.6,120.9 L444.6,121.6 L445.6,122.3 L446.6,123.0 L447.6,123.7 L448.6,124.4 L449.5,125.1 L450.5,125.8 L451.5,126.5 L452.5,127.1 L453.5,127.8 L454.4,128.5 L455.4,129.2 L456.4,129.9 L457.4,130.6 L458.4,131.3 L459.3,132.0 L460.3,132.7 L461.3,133.4 L462.3,134.1 L463.2,134.8 L464.2,135.5 L465.2,136.2 L466.2,136.9 L467.1,137.6 L468.1,138.3 L469.1,139.0 L470.1,139.7 L471.0,140.4 L472.0,141.1 L473.0,141.8 L473.9,142.6 L474.9,143.3 L475.9,144.0 L476.8,144.7 L477.8,145.4 L478.8,146.1 L479.7,146.8 L480.7,147.5 L481.7,148.3 L482.6,149.0 L483.6,149.7 L484.6,150.4 L485.5,151.1 L486.5,151.8 L487.5,152.6 L488.4,153.3 L489.4,154.0 L490.3,154.7 L491.3,155.4 L492.3,156.2 L493.2,156.9 L494.2,157.6 L495.1,158.3 L496.1,159.1 L497.0,159.8 L498.0,160.5 L499.0,161.2 L499.9,162.0 L500.9,162.7 L501.8,163.4 L502.8,164.1 L503.7,164.9 L504.7,165.6 L505.6,166.3 L506.6,167.1 L507.5,167.8 L508.5,168.5 L509.4,169.3 L510.4,170.0 L511.3,170.8 L512.3,171.5 L513.2,172.2 L514.2,173.0 L515.1,173.7 L516.1,174.4 L517.0,175.2 L517.9,175.9 L518.9,176.7 L519.8,177.4 L520.8,178.2 L521.7,178.9 L522.7,179.6 L523.6,180.4 L524.5,181.1 L525.5,181.9 L526.4,182.6 L527.4,183.4 L528.3,184.1 L529.2,184.9 L530.2,185.6 L531.1,186.4 L532.0,187.1 L533.0,187.9 L533.9,188.7 L534.8,189.4 L535.8,190.2 L536.7,190.9 L537.6,191.7 L538.6,192.4 L539.5,193.2 L540.4,194.0 L541.4,194.7 L542.3,195.5 L543.2,196.2 L544.1,197.0 L545.1,197.8 L546.0,198.5 L546.9,199.3 L547.9,200.1 L548.8,200.8 L549.7,201.6 L550.6,202.4 L551.5,203.1 L552.5,203.9 L553.4,204.7 L554.3,205.4 L555.2,206.2 L556.2,207.0 L557.1,207.7 L558.0,208.5 L558.9,209.3 L559.8,210.1 L560.7,210.8 L561.7,211.6 L562.6,212.4 L563.5,213.2 L564.4,214.0 L565.3,214.7 L566.2,215.5 L567.1,216.3 L568.1,217.1 L569.0,217.9 L569.9,218.6 L570.8,219.4 L571.7,220.2 L572.6,221.0 L573.5,221.8 L574.4,222.6 L575.3,223.3 L576.2,224.1 L577.1,224.9 L578.0,225.7 L579.0,226.5 L579.9,227.3 L580.8,228.1 L581.7,228.9 L582.6,229.7 L583.5,230.5 L584.4,231.3 L585.3,232.0 L586.2,232.8 L587.1,233.6 L588.0,234.4 L588.9,235.2 L589.8,236.0 L590.7,236.8 L591.6,237.6 L592.4,238.4 L593.3,239.2 L594.2,240.0 L595.1,240.8 L596.0,241.6 L596.9,242.4 L597.8,243.3 L598.7,244.1 L599.6,244.9 L600.5,245.7 L601.4,246.5 L602.2,247.3 L603.1,248.1 L604.0,248.9 L604.9,249.7 L605.8,250.5 L606.7,251.3 L607.6,252.2 L608.4,253.0 L609.3,253.8 L610.2,254.6 L611.1,255.4 L612.0,256.2 L612.9,257.0 L613.7,257.9 L614.6,258.7 L615.5,259.5 L616.4,260.3 L617.2,261.1 L618.1,262.0 L619.0,262.8 L619.9,263.6 L620.7,264.4 L621.6,265.3 L622.5,266.1 L623.4,266.9 L624.2,267.7 L625.1,268.6 L626.0,269.4 L626.8,270.2 L627.7,271.0 L628.6,271.9 L629.4,272.7 L630.3,273.5 L631.2,274.4 L632.0,275.2 L632.9,276.0 L633.8,276.9 L634.6,277.7 L635.5,278.5 L636.4,279.4 L637.2,280.2 L638.1,281.0 L638.9,281.9 L639.8,282.7 L640.7,283.6 L641.5,284.4 L642.4,285.2 L643.2,286.1 L644.1,286.9 L645.0,287.8 L645.8,288.6 L646.7,289.4 L647.5,290.3 L648.4,291.1 L649.2,292.0 L650.1,292.8 L650.9,293.7 L651.8,294.5 L652.6,295.4 L653.5,296.2 L654.3,297.1 L655.2,297.9 L656.0,298.8 L656.9,299.6 L657.7,300.5 L658.5,301.3 L659.4,302.2 L660.2,303.0 L661.1,303.9 L661.9,304.8 L662.8,305.6 L663.6,306.5 L664.4,307.3 L665.3,308.2 L666.1,309.0 L667.0,309.9 L667.8,310.8 L668.6,311.6 L669.5,312.5 L670.3,313.4 L671.1,314.2 L672.0,315.1 L672.8,316.0 L673.6,316.8 L674.5,317.7 L675.3,318.6 L676.1,319.4 L676.9,320.3 L677.8,321.2 L678.6,322.0 L679.4,322.9 L680.3,323.8 L681.1,324.6 L681.9,325.5 L682.7,326.4 L683.6,327.3 L684.4,328.1 L685.2,329.0 L686.0,329.9 L686.8,330.8 L687.7,331.6 L688.5,332.5 L689.3,333.4 L690.1,334.3 L690.9,335.2 L691.8,336.0 L692.6,336.9 L693.4,337.8 L694.2,338.7 L695.0,339.6 L695.8,340.4 L696.6,341.3 L697.5,342.2 L698.3,343.1 L699.1,344.0 L699.9,344.9 L700.7,345.8 L701.5,346.6 L702.3,347.5 L703.1,348.4 L703.9,349.3 L704.7,350.2 L705.5,351.1 L706.3,352.0 L707.1,352.9 L707.9,353.8 L708.7,354.7 L709.5,355.6 L710.3,356.5 L711.1,357.4 L711.9,358.3 L712.7,359.2 L713.5,360.0 L714.3,360.9 L715.1,361.8 L715.9,362.7 L716.7,363.6 L717.5,364.5 L718.3,365.4 L719.1,366.3 L719.9,367.3 L720.7,368.2 L721.5,369.1 L722.3,370.0 L723.0,370.9 L723.8,371.8 L724.6,372.7 L725.4,373.6 L726.2,374.5 L727.0,375.4 L727.8,376.3 L728.5,377.2 L729.3,378.1 L730.1,379.0 L730.9,380.0 L731.7,380.9 L732.5,381.8 L733.2,382.7 L734.0,383.6 L734.8,384.5 L735.6,385.4 L736.3,386.4 L737.1,387.3 L737.9,388.2 L738.7,389.1 L739.4,390.0 L740.2,390.9 L741.0,391.9 L741.8,392.8 L742.5,393.7 L743.3,394.6 L744.1,395.5 L744.8,396.5 L745.6,397.4 L746.4,398.3 L747.1,399.2 L747.9,400.2 L748.7,401.1 L749.4,402.0 L750.2,402.9 L751.0,403.9 L751.7,404.8 L752.5,405.7 L753.3,406.7 L754.0,407.6 L754.8,408.5 L755.5,409.4 L756.3,410.4 L757.0,411.3 L757.8,412.2 L758.6,413.2 L759.3,414.1 L760.1,415.0 L760.8,416.0 L761.6,416.9 L762.3,417.9 L763.1,418.8 L763.8,419.7 L764.6,420.7 L765.3,421.6 L766.1,422.5 L766.8,423.5 L767.6,424.4 L768.3,425.4 L769.1,426.3 L769.8,427.2 L770.5,428.2 L771.3,429.1 L772.0,430.1 L772.8,431.0 L773.5,432.0 L774.3,432.9 L775.0,433.9 L775.7,434.8 L776.5,435.7 L777.2,436.7 L777.9,437.6 L778.7,438.6 L779.4,439.5 L780.2,440.5 L780.9,441.4 L781.6,442.4 L782.4,443.3 L783.1,444.3 L783.8,445.3 L784.5,446.2 L785.3,447.2 L786.0,448.1 L786.7,449.1 L787.5,450.0 L788.2,451.0 L788.9,451.9 L789.6,452.9 L790.4,453.9 L791.1,454.8 L791.8,455.8 L792.5,456.7 L793.2,457.7 L794.0,458.6 L794.7,459.6 L795.4,460.6 L796.1,461.5 L796.8,462.5 L797.6,463.5 L798.3,464.4 L799.0,465.4 L799.7,466.4 L800.4,467.3 L801.1,468.3 L801.8,469.2 L802.6,470.2 L803.3,471.2 L804.0,472.2 L804.7,473.1 L805.4,474.1 L806.1,475.1 L806.8,476.0 L807.5,477.0 L808.2,478.0 L808.9,478.9 L809.6,479.9 L810.3,480.9 L811.0,481.9 L811.8,482.8 L812.5,483.8 L813.2,484.8 L813.9,485.8 L814.6,486.7 L815.3,487.7 L816.0,488.7 L816.7,489.7 L817.3,490.6 L818.0,491.6 L818.7,492.6 L819.4,493.6 L820.1,494.6 L820.8,495.5 L821.5,496.5 L822.2,497.5 L822.9,498.5 L823.6,499.5 L824.3,500.4 L825.0,501.4 L825.7,502.4 L826.3,503.4 L827.0,504.4 L827.7,505.4 L828.4,506.4 L829.1,507.3 L829.8,508.3 L830.4,509.3 L831.1,510.3 L831.8,511.3 L832.5,512.3 L833.2,513.3 L833.9,514.3 L834.5,515.3 L835.2,516.2 L835.9,517.2 L836.6,518.2 L837.2,519.2 L837.9,520.2 L838.6,521.2 L839.3,522.2 L839.9,523.2 L840.6,524.2 L841.3,525.2 L842.0,526.2 L842.6,527.2 L843.3,528.2 L844.0,529.2 L844.6,530.2 L845.3,531.2 L846.0,532.2 L846.6,533.2 L847.3,534.2 L848.0,535.2 L848.6,536.2 L849.3,537.2 L850.0,538.2 L850.6,539.2 L851.3,540.2 L851.9,541.2 L852.6,542.2 L853.3,543.2 L853.9,544.2 L854.6,545.2 L855.2,546.2 L855.9,547.2 L856.5,548.2 L857.2,549.2 L857.8,550.2 L858.5,551.2 L859.2,552.2 L859.8,553.2 L860.5,554.3 L861.1,555.3 L861.8,556.3 L862.4,557.3 L863.1,558.3 L863.7,559.3 L864.3,560.3 L865.0,561.3 L865.6,562.3 L866.3,563.4 L866.9,564.4 L867.6,565.4 L868.2,566.4 L868.9,567.4 L869.5,568.4 L870.1,569.4 L870.8,570.5 L871.4,571.5 L872.1,572.5 L872.7,573.5 L873.3,574.5 L874.0,575.5 L874.6,576.6 L875.2,577.6 L875.9,578.6 L876.5,579.6 L877.1,580.6 L877.8,581.7 L878.4,582.7 L879.0,583.7 L879.7,584.7 L880.3,585.8 L880.9,586.8 L881.5,587.8 L882.2,588.8 L882.8,589.8 L883.4,590.9 L884.1,591.9 L884.7,592.9 L885.3,593.9 L885.9,595.0 L886.5,596.0 L887.2,597.0 L887.8,598.1 L888.4,599.1 L889.0,600.1 L889.7,601.1 L890.3,602.2 L890.9,603.2 L891.5,604.2 L892.1,605.3 L892.7,606.3 L893.4,607.3 L894.0,608.4 L894.6,609.4 L895.2,610.4 L895.8,611.5 L896.4,612.5 L897.0,613.5 L897.6,614.6 L898.2,615.6 L898.9,616.6 L899.5,617.7 L900.1,618.7 L900.7,619.7 L901.3,620.8 L901.9,621.8 L902.5,622.8 L903.1,623.9 L903.7,624.9 L904.3,626.0 L904.9,627.0 L905.5,628.0 L906.1,629.1 L906.7,630.1 L907.3,631.2 L907.9,632.2 L908.5,633.2 L909.1,634.3 L909.7,635.3 L910.3,636.4 L910.9,637.4 L911.5,638.4 L912.1,639.5 L912.7,640.5 L913.3,641.6 L913.9,642.6 L914.5,643.7 L915.0,644.7 L915.6,645.8 L916.2,646.8 L916.8,647.9 L917.4,648.9 L918.0,649.9 L918.6,651.0 L919.2,652.0 L919.7,653.1 L920.3,654.1 L920.9,655.2 L921.5,656.2 L922.1,657.3 L922.7,658.3 L923.2,659.4 L923.8,660.4 L924.4,661.5 L925.0,662.5 L925.6,663.6 L926.1,664.6 L926.7,665.7 L927.3,666.8 L927.9,667.8 L928.4,668.9 L929.0,669.9 L929.6,671.0 L930.2,672.0 L930.7,673.1 L931.3,674.1 L931.9,675.2 L932.5,676.2 L933.0,677.3 L933.6,678.4 L934.2,679.4 L934.7,680.5 L935.3,681.5 L935.9,682.6 L936.4,683.7 L937.0,684.7 L937.6,685.8 L938.1,686.8 L938.7,687.9 L939.3,688.9 L939.8,690.0 L940.4,691.1 L940.9,692.1 L941.5,693.2 L942.1,694.3 L942.6,695.3 L943.2,696.4 L943.7,697.4 L944.3,698.5 L944.9,699.6 L945.4,700.6 L946.0,701.7 L946.5,702.8 L947.1,703.8 L947.6,704.9 L948.2,706.0 L948.7,707.0 L949.3,708.1 L949.8,709.2 L950.4,710.2 L950.9,711.3 L951.5,712.4 L952.0,713.4 L952.6,714.5 L953.1,715.6 L953.7,716.6 L954.2,717.7 L954.8,718.8 L955.3,719.8 L955.9,720.9 L956.4,722.0 L957.0,723.1 L957.5,724.1 L958.0,725.2 L958.6,726.3 L959.1,727.3 L959.7,728.4 L960.2,729.5 L960.7,730.6 L961.3,731.6 L961.8,732.7 L962.4,733.8 L962.9,734.9 L963.4,735.9 L964.0,737.0 L964.5,738.1 L965.0,739.2 L965.6,740.2 L966.1,741.3 L966.6,742.4 L967.2,743.5 L967.7,744.5 L968.2,745.6 L968.7,746.7 L969.3,747.8 L969.8,748.9 L970.3,749.9 L970.9,751.0 L971.4,752.1 L971.9,753.2 L972.4,754.2 L973.0,755.3 L973.5,756.4 L974.0,757.5 L974.5,758.6 L975.1,759.7 L975.6,760.7 L976.1,761.8 L976.6,762.9 L977.1,764.0 L977.7,765.1 L978.2,766.1 L978.7,767.2 L979.2,768.3 L979.7,769.4 L980.2,770.5 L980.8,771.6 L981.3,772.6 L981.8,773.7 L982.3,774.8 L982.8,775.9 L983.3,777.0 L983.8,778.1 L984.4,779.2 L984.9,780.2 L985.4,781.3 L985.9,782.4 L986.4,783.5 L986.9,784.6 L987.4,785.7 L987.9,786.8 L988.4,787.9 L988.9,789.0 L989.4,790.0 L989.9,791.1 L990.4,792.2 L991.0,793.3 L991.5,794.4 L992.0,795.5 L992.5,796.6 L993.0,797.7 L993.5,798.8 L994.0,799.9 L994.5,800.9 L995.0,802.0 L995.5,803.1 L996.0,804.2 L996.5,805.3 L997.0,806.4 L997.5,807.5 L997.9,808.6 L998.4,809.7 L998.9,810.8 L999.4,811.9 L999.9,813.0 L1000.4,814.1 L1000.9,815.2 L1001.4,816.3 L1001.9,817.4 L1002.4,818.4 L1002.9,819.5 L1003.4,820.6 L1003.9,821.7 L1004.3,822.8 L1004.8,823.9 L1005.3,825.0 L1005.8,826.1 L1006.3,827.2 L1006.8,828.3 L1007.3,829.4 L1007.7,830.5 L1008.2,831.6 L1008.7,832.7 L1009.2,833.8 L1009.7,834.9 L1010.2,836.0 L1010.6,837.1 L1011.1,838.2 L1011.6,839.3 L1012.1,840.4 L1012.6,841.5 L1013.0,842.6 L1013.5,843.7 L1014.0,844.8 L1014.5,845.9 L1015.0,847.0 L1015.4,848.1 L1015.9,849.2 L1016.4,850.3 L1016.9,851.4 L1017.3,852.5 L1017.8,853.6 L1018.3,854.8 L1018.7,855.9 L1019.2,857.0 L1019.7,858.1 L1020.2,859.2 L1020.6,860.3 L1021.1,861.4 L1021.6,862.5 L1022.0,863.6 L1022.5,864.7 L1023.0,865.8 L1023.4,866.9 L1023.9,868.0 L1024.4,869.1 L1024.8,870.2 L1025.3,871.3 L1025.8,872.4 L1026.2,873.6 L1026.7,874.7 L1027.1,875.8 L1027.6,876.9 L1028.1,878.0 L1028.5,879.1 L1029.0,880.2 L1029.5,881.3 L1029.9,882.4 L1030.4,883.5 L1030.8,884.6 L1031.3,885.8 L1031.7,886.9 L1032.2,888.0" stroke="#9d3cff" stroke-width="6.5" fill="none" stroke-linejoin="round"/><path d="M399.8,399.3 L401.0,399.2 L402.2,399.2 L403.4,399.2 L404.6,399.1 L405.8,399.1 L407.0,399.1 L408.2,399.1 L409.4,399.0 L410.6,399.0 L411.8,399.0 L413.0,398.9 L414.2,398.9 L415.4,398.9 L416.6,398.8 L417.8,398.8 L419.0,398.8 L420.2,398.7 L421.4,398.7 L422.6,398.7 L423.8,398.6 L425.0,398.6 L426.2,398.5 L427.4,398.5 L428.6,398.5 L429.8,398.4 L431.0,398.4 L432.2,398.4 L433.4,398.3 L434.6,398.3 L435.8,398.3 L437.0,398.2 L438.2,398.2 L439.4,398.2 L440.6,398.1 L441.8,398.1 L443.0,398.1 L444.2,398.0 L445.4,398.0 L446.6,398.0 L447.8,397.9 L449.0,397.9 L450.2,397.8 L451.4,397.8 L452.6,397.8 L453.8,397.7 L455.0,397.7 L456.2,397.7 L457.4,397.6 L458.6,397.6 L459.8,397.5 L461.0,397.5 L462.2,397.5 L463.4,397.4 L464.6,397.4 L465.8,397.4 L467.0,397.3 L468.2,397.3 L469.4,397.2 L470.6,397.2 L471.8,397.2 L473.0,397.1 L474.2,397.1 L475.4,397.1 L476.6,397.0 L477.8,397.0 L479.0,396.9 L480.2,396.9 L481.4,396.9 L482.6,396.8 L483.8,396.8 L485.0,396.7 L486.2,396.7 L487.4,396.7 L488.6,396.6 L489.8,396.6 L491.0,396.5 L492.2,396.5 L493.4,396.5 L494.6,396.4 L495.8,396.4 L497.0,396.3 L498.2,396.3 L499.4,396.3 L500.6,396.2 L501.8,396.2 L503.0,396.1 L504.2,396.1 L505.4,396.0 L506.6,396.0 L507.8,396.0 L509.0,395.9 L510.2,395.9 L511.4,395.8 L512.6,395.8 L513.8,395.8 L515.0,395.7 L516.2,395.7 L517.4,395.6 L518.6,395.6 L519.8,395.5 L521.0,395.5 L522.2,395.4 L523.4,395.4 L524.6,395.4 L525.8,395.3 L527.0,395.3 L528.2,395.2 L529.4,395.2 L530.6,395.1 L531.8,395.1 L533.0,395.1 L534.2,395.0 L535.4,395.0 L536.6,394.9 L537.8,394.9 L539.0,394.8 L540.2,394.8 L541.4,394.7 L542.6,394.7 L543.8,394.6 L545.0,394.6 L546.2,394.5 L547.4,394.5 L548.6,394.5 L549.8,394.4 L551.0,394.4 L552.2,394.3 L553.4,394.3 L554.6,394.2 L555.8,394.2 L557.0,394.1 L558.2,394.1 L559.4,394.0 L560.6,394.0 L561.8,393.9 L563.0,393.9 L564.2,393.8 L565.4,393.8 L566.6,393.7 L567.8,393.7 L569.0,393.6 L570.2,393.6 L571.4,393.5 L572.6,393.5 L573.8,393.4 L575.0,393.4 L576.2,393.3 L577.4,393.3 L578.6,393.2 L579.8,393.2 L581.0,393.1 L582.2,393.1 L583.4,393.0 L584.6,393.0 L585.8,392.9 L587.0,392.9 L588.2,392.8 L589.4,392.8 L590.6,392.7 L591.8,392.7 L593.0,392.6 L594.2,392.5 L595.4,392.5 L596.6,392.4 L597.8,392.4 L599.0,392.3 L600.2,392.3 L601.4,392.2 L602.6,392.2 L603.8,392.1 L605.0,392.1 L606.2,392.0 L607.4,392.0 L608.6,391.9 L609.8,391.8 L611.0,391.8 L612.2,391.7 L613.4,391.7 L614.6,391.6 L615.8,391.6 L617.0,391.5 L618.2,391.4 L619.4,391.4 L620.6,391.3 L621.8,391.3 L623.0,391.2 L624.2,391.2 L625.4,391.1 L626.6,391.0 L627.8,391.0 L629.0,390.9 L630.2,390.9 L631.4,390.8 L632.6,390.7 L633.8,390.7 L635.0,390.6 L636.2,390.6 L637.4,390.5 L638.6,390.4 L639.8,390.4 L641.0,390.3 L642.2,390.3 L643.4,390.2 L644.6,390.1 L645.8,390.1 L647.0,390.0 L648.2,390.0 L649.4,389.9 L650.6,389.8 L651.8,389.8 L653.0,389.7 L654.2,389.6 L655.4,389.6 L656.6,389.5 L657.8,389.5 L659.0,389.4 L660.1,389.3 L661.3,389.3 L662.5,389.2 L663.7,389.1 L664.9,389.1 L666.1,389.0 L667.3,388.9 L668.5,388.9 L669.7,388.8 L670.9,388.7 L672.1,388.7 L673.3,388.6 L674.5,388.5 L675.7,388.5 L676.9,388.4 L678.1,388.3 L679.3,388.3 L680.5,388.2 L681.7,388.1 L682.9,388.1 L684.1,388.0 L685.3,387.9 L686.5,387.8 L687.7,387.8 L688.9,387.7 L690.1,387.6 L691.3,387.6 L692.5,387.5 L693.7,387.4 L694.9,387.3 L696.1,387.3 L697.3,387.2 L698.5,387.1 L699.7,387.1 L700.9,387.0 L702.1,386.9 L703.3,386.8 L704.5,386.8 L705.7,386.7 L706.9,386.6 L708.1,386.5 L709.3,386.5 L710.5,386.4 L711.7,386.3 L712.9,386.2 L714.1,386.2 L715.3,386.1 L716.5,386.0 L717.7,385.9 L718.9,385.9 L720.1,385.8 L721.3,385.7 L722.5,385.6 L723.7,385.5 L724.9,385.5 L726.1,385.4 L727.3,385.3 L728.5,385.2 L729.7,385.2 L730.9,385.1 L732.1,385.0 L733.3,384.9 L734.5,384.8 L735.7,384.7 L736.9,384.7 L738.0,384.6 L739.2,384.5 L740.4,384.4 L741.6,384.3 L742.8,384.3 L744.0,384.2 L745.2,384.1 L746.4,384.0 L747.6,383.9 L748.8,383.8 L750.0,383.7 L751.2,383.7 L752.4,383.6 L753.6,383.5 L754.8,383.4 L756.0,383.3 L757.2,383.2 L758.4,383.1 L759.6,383.1 L760.8,383.0 L762.0,382.9 L763.2,382.8 L764.4,382.7 L765.6,382.6 L766.8,382.5 L768.0,382.4 L769.2,382.3 L770.4,382.2 L771.6,382.2 L772.8,382.1 L774.0,382.0 L775.2,381.9 L776.4,381.8 L777.6,381.7 L778.8,381.6 L780.0,381.5 L781.2,381.4 L782.4,381.3 L783.6,381.2 L784.7,381.1 L785.9,381.0 L787.1,380.9 L788.3,380.8 L789.5,380.7 L790.7,380.6 L791.9,380.5 L793.1,380.4 L794.3,380.4 L795.5,380.3 L796.7,380.2 L797.9,380.1 L799.1,380.0 L800.3,379.9 L801.5,379.8 L802.7,379.6 L803.9,379.5 L805.1,379.4 L806.3,379.3 L807.5,379.2 L808.7,379.1 L809.9,379.0 L811.1,378.9 L812.3,378.8 L813.5,378.7 L814.7,378.6 L815.9,378.5 L817.1,378.4 L818.2,378.3 L819.4,378.2 L820.6,378.1 L821.8,378.0 L823.0,377.9 L824.2,377.8 L825.4,377.6 L826.6,377.5 L827.8,377.4 L829.0,377.3 L830.2,377.2 L831.4,377.1 L832.6,377.0 L833.8,376.9 L835.0,376.7 L836.2,376.6 L837.4,376.5 L838.6,376.4 L839.8,376.3 L841.0,376.2 L842.2,376.1 L843.4,375.9 L844.5,375.8 L845.7,375.7 L846.9,375.6 L848.1,375.5 L849.3,375.3 L850.5,375.2 L851.7,375.1 L852.9,375.0 L854.1,374.9 L855.3,374.7 L856.5,374.6 L857.7,374.5 L858.9,374.4 L860.1,374.2 L861.3,374.1 L862.5,374.0 L863.7,373.9 L864.9,373.7 L866.0,373.6 L867.2,373.5 L868.4,373.4 L869.6,373.2 L870.8,373.1 L872.0,373.0 L873.2,372.8 L874.4,372.7 L875.6,372.6 L876.8,372.5 L878.0,372.3 L879.2,372.2 L880.4,372.1 L881.6,371.9 L882.8,371.8 L883.9,371.7 L885.1,371.5 L886.3,371.4 L887.5,371.2 L888.7,371.1 L889.9,371.0 L891.1,370.8 L892.3,370.7 L893.5,370.5 L894.7,370.4 L895.9,370.3 L897.1,370.1 L898.3,370.0 L899.5,369.8 L900.6,369.7 L901.8,369.5 L903.0,369.4 L904.2,369.3 L905.4,369.1 L906.6,369.0 L907.8,368.8 L909.0,368.7 L910.2,368.5 L911.4,368.4 L912.6,368.2 L913.7,368.1 L914.9,367.9 L916.1,367.8 L917.3,367.6 L918.5,367.4 L919.7,367.3 L920.9,367.1 L922.1,367.0 L923.3,366.8 L924.5,366.7 L925.7,366.5 L926.8,366.3 L928.0,366.2 L929.2,366.0 L930.4,365.9 L931.6,365.7 L932.8,365.5 L934.0,365.4 L935.2,365.2 L936.4,365.0 L937.6,364.9 L938.7,364.7 L939.9,364.5 L941.1,364.4 L942.3,364.2 L943.5,364.0 L944.7,363.9 L945.9,363.7 L947.1,363.5 L948.2,363.3 L949.4,363.2 L950.6,363.0 L951.8,362.8 L953.0,362.6 L954.2,362.5 L955.4,362.3 L956.6,362.1 L957.7,361.9 L958.9,361.8 L960.1,361.6 L961.3,361.4 L962.5,361.2 L963.7,361.0 L964.9,360.8 L966.1,360.6 L967.2,360.5 L968.4,360.3 L969.6,360.1 L970.8,359.9 L972.0,359.7 L973.2,359.5 L974.4,359.3 L975.5,359.1 L976.7,358.9 L977.9,358.7 L979.1,358.5 L980.3,358.3 L981.5,358.1 L982.6,357.9 L983.8,357.7 L985.0,357.5 L986.2,357.3 L987.4,357.1 L988.6,356.9 L989.7,356.7 L990.9,356.5 L992.1,356.3 L993.3,356.1 L994.5,355.9 L995.7,355.7 L996.8,355.5 L998.0,355.3 L999.2,355.0 L1000.4,354.8 L1001.6,354.6 L1002.7,354.4 L1003.9,354.2 L1005.1,354.0 L1006.3,353.7 L1007.5,353.5 L1008.6,353.3 L1009.8,353.1 L1011.0,352.9 L1012.2,352.6 L1013.4,352.4 L1014.5,352.2 L1015.7,351.9 L1016.9,351.7 L1018.1,351.5 L1019.3,351.3 L1020.4,351.0 L1021.6,350.8 L1022.8,350.5 L1024.0,350.3 L1025.1,350.1 L1026.3,349.8 L1027.5,349.6 L1028.7,349.3 L1029.8,349.1 L1031.0,348.9 L1032.2,348.6" stroke="#009300" stroke-width="6.5" fill="none" stroke-linejoin="round"/></g>
<path d="M436,236.00H446 M996,236.00H987 M436,414.00H446 M996,414.00H987 M436,592.00H446 M996,592.00H987 M436,325.00H442 M996,325.00H990 M436,503.00H442 M996,503.00H990 M623.00,664V654 M623.00,165V175 M809.00,664V654 M809.00,165V175 M530.00,664V658 M530.00,165V171 M716.00,664V658 M716.00,165V171 M902.00,664V658 M902.00,165V171" stroke="#000" stroke-width="2" fill="none"/>
<rect x="437" y="166" width="558" height="497" fill="none" stroke="#000" stroke-width="2"/>
<g font-family="'Liberation Sans', Arial, sans-serif" font-size="37" fill="#000"><text x="427" y="247.0" text-anchor="end">0.5</text><text x="427" y="425.0" text-anchor="end">0.0</text><text x="427" y="603.0" text-anchor="end">-0.5</text><text x="437.0" y="701" text-anchor="middle">390</text><text x="623.0" y="701" text-anchor="middle">400</text><text x="809.0" y="701" text-anchor="middle">410</text><text x="995.0" y="701" text-anchor="middle">420</text></g>
<text x="715.4" y="770.3" text-anchor="middle" font-family="'Liberation Sans', Arial, sans-serif" font-size="50">wavelength (nm)</text>
<text transform="translate(347,412) rotate(-90)" text-anchor="middle" font-family="'Liberation Sans', Arial, sans-serif" font-size="50" textLength="216.4" lengthAdjust="spacing">Re <tspan font-family="'Noto Serif CJK SC', 'Liberation Serif', serif" font-size="46">ε</tspan>, Im <tspan font-family="'Noto Serif CJK SC', 'Liberation Serif', serif" font-size="46">ε</tspan></text>
<path d="M898.0,968.0L859.7,936.0" stroke="#000" stroke-width="3.6"/><path d="M832.9,913.8L865.4,929.2L854.0,942.9Z" fill="#000" stroke="#000" stroke-width="1.6" stroke-linejoin="round"/>
<path d="M1198.0,967.0L1158.8,934.8" stroke="#000" stroke-width="3.6"/><path d="M1131.9,912.8L1164.5,928.0L1153.2,941.7Z" fill="#000" stroke="#000" stroke-width="1.6" stroke-linejoin="round"/>
<text x="876" y="1015.8" font-family="'Noto Serif CJK SC', 'Liberation Serif', serif" font-size="63">λ</text>
<text x="913.2" y="1034.9" font-family="'Liberation Serif', 'Times New Roman', serif" font-size="50">1</text>
<text x="1178" y="1014.4" font-family="'Noto Serif CJK SC', 'Liberation Serif', serif" font-size="63">λ</text>
<text x="1216" y="1033.9" font-family="'Liberation Serif', 'Times New Roman', serif" font-size="50">0</text>
</svg></body></html>
